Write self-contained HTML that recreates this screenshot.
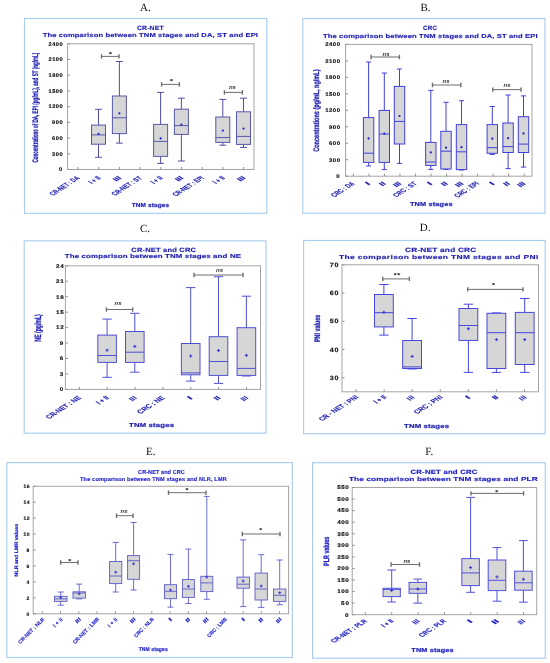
<!DOCTYPE html><html><head><meta charset="utf-8"><style>html,body{margin:0;padding:0;background:#fff;width:550px;height:663px;overflow:hidden}svg{display:block}</style></head><body>
<svg width="550" height="663" viewBox="0 0 550 663" text-rendering="geometricPrecision" font-family='"Liberation Sans", sans-serif'>
<defs><filter id="bl" x="0" y="0" width="550" height="663" filterUnits="userSpaceOnUse"><feGaussianBlur stdDeviation="0.3"/></filter></defs>
<rect width="550" height="663" fill="#fff"/>
<g filter="url(#bl)">
<rect x="24.50" y="18.50" width="242.30" height="194.80" fill="none" stroke="#a9cdef" stroke-width="1.15"/>
<text x="140" y="10.80" font-family='"Liberation Serif", serif' font-size="11" fill="#111">A.</text>
<text transform="translate(137.00,29.73) scale(1.101729992994629,1)" x="0" y="0" font-size="6.2" font-weight="bold" fill="#1e1eb0" textLength="24.14" lengthAdjust="spacing" stroke="#1e1eb0" stroke-width="0.15">CR-NET</text>
<text transform="translate(42.70,36.99) scale(1.311852407888414,1)" x="0" y="0" font-size="5.8" font-weight="bold" fill="#1e1eb0" textLength="164.12" lengthAdjust="spacing" stroke="#1e1eb0" stroke-width="0.15">The comparison between TNM stages and DA, ST and EPI</text>
<rect x="67.60" y="43.80" width="186.40" height="125.70" fill="none" stroke="#a4a4a4" stroke-width="1.0"/>
<line x1="67.60" y1="169.50" x2="70.10" y2="169.50" stroke="#909090" stroke-width="1"/>
<text transform="translate(59.10,171.31) scale(1.0689561558300529,1)" x="0" y="0" font-size="5.3" font-weight="bold" fill="#111" textLength="3.27" lengthAdjust="spacing" stroke="#111" stroke-width="0.15">0</text>
<line x1="67.60" y1="153.79" x2="70.10" y2="153.79" stroke="#909090" stroke-width="1"/>
<text transform="translate(52.10,155.60) scale(1.0689561558300529,1)" x="0" y="0" font-size="5.3" font-weight="bold" fill="#111" textLength="9.82" lengthAdjust="spacing" stroke="#111" stroke-width="0.15">300</text>
<line x1="67.60" y1="138.07" x2="70.10" y2="138.07" stroke="#909090" stroke-width="1"/>
<text transform="translate(52.10,139.88) scale(1.0689561558300529,1)" x="0" y="0" font-size="5.3" font-weight="bold" fill="#111" textLength="9.82" lengthAdjust="spacing" stroke="#111" stroke-width="0.15">600</text>
<line x1="67.60" y1="122.36" x2="70.10" y2="122.36" stroke="#909090" stroke-width="1"/>
<text transform="translate(52.10,124.17) scale(1.0689561558300529,1)" x="0" y="0" font-size="5.3" font-weight="bold" fill="#111" textLength="9.82" lengthAdjust="spacing" stroke="#111" stroke-width="0.15">900</text>
<line x1="67.60" y1="106.65" x2="70.10" y2="106.65" stroke="#909090" stroke-width="1"/>
<text transform="translate(48.60,108.46) scale(1.0689561558300529,1)" x="0" y="0" font-size="5.3" font-weight="bold" fill="#111" textLength="13.10" lengthAdjust="spacing" stroke="#111" stroke-width="0.15">1200</text>
<line x1="67.60" y1="90.94" x2="70.10" y2="90.94" stroke="#909090" stroke-width="1"/>
<text transform="translate(48.60,92.75) scale(1.0689561558300529,1)" x="0" y="0" font-size="5.3" font-weight="bold" fill="#111" textLength="13.10" lengthAdjust="spacing" stroke="#111" stroke-width="0.15">1500</text>
<line x1="67.60" y1="75.22" x2="70.10" y2="75.22" stroke="#909090" stroke-width="1"/>
<text transform="translate(48.60,77.03) scale(1.0689561558300529,1)" x="0" y="0" font-size="5.3" font-weight="bold" fill="#111" textLength="13.10" lengthAdjust="spacing" stroke="#111" stroke-width="0.15">1800</text>
<line x1="67.60" y1="59.51" x2="70.10" y2="59.51" stroke="#909090" stroke-width="1"/>
<text transform="translate(48.60,61.32) scale(1.0689561558300529,1)" x="0" y="0" font-size="5.3" font-weight="bold" fill="#111" textLength="13.10" lengthAdjust="spacing" stroke="#111" stroke-width="0.15">2100</text>
<line x1="67.60" y1="43.80" x2="70.10" y2="43.80" stroke="#909090" stroke-width="1"/>
<text transform="translate(48.60,45.61) scale(1.0689561558300529,1)" x="0" y="0" font-size="5.3" font-weight="bold" fill="#111" textLength="13.10" lengthAdjust="spacing" stroke="#111" stroke-width="0.15">2400</text>
<line x1="77.95" y1="169.50" x2="77.95" y2="167.00" stroke="#909090" stroke-width="1"/>
<text transform="matrix(1.0960,-0.7071,1.0960,0.7071,75.95,175.50)" x="0" y="4.03" text-anchor="end" font-size="5.6" font-weight="bold" fill="#1e1eb0" stroke="#1e1eb0" stroke-width="0.12" textLength="25.04" lengthAdjust="spacingAndGlyphs">CR-NET : DA</text>
<line x1="98.66" y1="169.50" x2="98.66" y2="167.00" stroke="#909090" stroke-width="1"/>
<text transform="matrix(1.0960,-0.7071,1.0960,0.7071,96.66,175.50)" x="0" y="4.03" text-anchor="end" font-size="5.6" font-weight="bold" fill="#1e1eb0" stroke="#1e1eb0" stroke-width="0.12" textLength="8.46" lengthAdjust="spacingAndGlyphs">I + II</text>
<line x1="119.38" y1="169.50" x2="119.38" y2="167.00" stroke="#909090" stroke-width="1"/>
<text transform="matrix(1.0960,-0.7071,1.0960,0.7071,117.38,175.50)" x="0" y="4.03" text-anchor="end" font-size="5.6" font-weight="bold" fill="#1e1eb0" stroke="#1e1eb0" stroke-width="0.12" textLength="4.94" lengthAdjust="spacingAndGlyphs">III</text>
<line x1="140.08" y1="169.50" x2="140.08" y2="167.00" stroke="#909090" stroke-width="1"/>
<text transform="matrix(1.0960,-0.7071,1.0960,0.7071,138.08,175.50)" x="0" y="4.03" text-anchor="end" font-size="5.6" font-weight="bold" fill="#1e1eb0" stroke="#1e1eb0" stroke-width="0.12" textLength="25.04" lengthAdjust="spacingAndGlyphs">CR-NET : ST</text>
<line x1="160.80" y1="169.50" x2="160.80" y2="167.00" stroke="#909090" stroke-width="1"/>
<text transform="matrix(1.0960,-0.7071,1.0960,0.7071,158.80,175.50)" x="0" y="4.03" text-anchor="end" font-size="5.6" font-weight="bold" fill="#1e1eb0" stroke="#1e1eb0" stroke-width="0.12" textLength="8.46" lengthAdjust="spacingAndGlyphs">I + II</text>
<line x1="181.50" y1="169.50" x2="181.50" y2="167.00" stroke="#909090" stroke-width="1"/>
<text transform="matrix(1.0960,-0.7071,1.0960,0.7071,179.50,175.50)" x="0" y="4.03" text-anchor="end" font-size="5.6" font-weight="bold" fill="#1e1eb0" stroke="#1e1eb0" stroke-width="0.12" textLength="4.94" lengthAdjust="spacingAndGlyphs">III</text>
<line x1="202.22" y1="169.50" x2="202.22" y2="167.00" stroke="#909090" stroke-width="1"/>
<text transform="matrix(1.0960,-0.7071,1.0960,0.7071,200.22,175.50)" x="0" y="4.03" text-anchor="end" font-size="5.6" font-weight="bold" fill="#1e1eb0" stroke="#1e1eb0" stroke-width="0.12" textLength="26.10" lengthAdjust="spacingAndGlyphs">CR-NET : EPI</text>
<line x1="222.93" y1="169.50" x2="222.93" y2="167.00" stroke="#909090" stroke-width="1"/>
<text transform="matrix(1.0960,-0.7071,1.0960,0.7071,220.93,175.50)" x="0" y="4.03" text-anchor="end" font-size="5.6" font-weight="bold" fill="#1e1eb0" stroke="#1e1eb0" stroke-width="0.12" textLength="8.46" lengthAdjust="spacingAndGlyphs">I + II</text>
<line x1="243.63" y1="169.50" x2="243.63" y2="167.00" stroke="#909090" stroke-width="1"/>
<text transform="matrix(1.0960,-0.7071,1.0960,0.7071,241.63,175.50)" x="0" y="4.03" text-anchor="end" font-size="5.6" font-weight="bold" fill="#1e1eb0" stroke="#1e1eb0" stroke-width="0.12" textLength="4.94" lengthAdjust="spacingAndGlyphs">III</text>
<text transform="translate(35.00,162.50) scale(1.3,1) rotate(-90)" x="0" y="2.23" font-size="6.2" font-weight="bold" fill="#1e1eb0" stroke="#1e1eb0" stroke-width="0.22" textLength="109.80" lengthAdjust="spacingAndGlyphs">Concentrations of DA, EPI (pg/mL), and ST (ng/mL)</text>
<text transform="translate(131.80,206.99) scale(1.1115898782984044,1)" x="0" y="0" font-size="5.8" font-weight="bold" fill="#1e1eb0" textLength="33.56" lengthAdjust="spacing" stroke="#1e1eb0" stroke-width="0.2">TNM stages</text>
<line x1="98.50" y1="109.30" x2="98.50" y2="125.10" stroke="#50509e" stroke-width="1.0"/>
<line x1="95.00" y1="109.30" x2="102.00" y2="109.30" stroke="#50509e" stroke-width="1.0"/>
<line x1="98.50" y1="144.20" x2="98.50" y2="157.30" stroke="#50509e" stroke-width="1.0"/>
<line x1="95.00" y1="157.30" x2="102.00" y2="157.30" stroke="#50509e" stroke-width="1.0"/>
<rect x="91.50" y="125.10" width="14.00" height="19.10" fill="#d6d6d6" stroke="#5858a8" stroke-width="1.0"/>
<line x1="91.50" y1="134.90" x2="105.50" y2="134.90" stroke="#5858a8" stroke-width="1.0"/>
<circle cx="98.50" cy="133.80" r="1.12" fill="#2020c8"/>
<line x1="119.40" y1="61.50" x2="119.40" y2="96.00" stroke="#50509e" stroke-width="1.0"/>
<line x1="115.90" y1="61.50" x2="122.90" y2="61.50" stroke="#50509e" stroke-width="1.0"/>
<line x1="119.40" y1="133.60" x2="119.40" y2="143.10" stroke="#50509e" stroke-width="1.0"/>
<line x1="115.90" y1="143.10" x2="122.90" y2="143.10" stroke="#50509e" stroke-width="1.0"/>
<rect x="112.40" y="96.00" width="14.00" height="37.60" fill="#d6d6d6" stroke="#5858a8" stroke-width="1.0"/>
<line x1="112.40" y1="117.80" x2="126.40" y2="117.80" stroke="#5858a8" stroke-width="1.0"/>
<circle cx="119.40" cy="113.30" r="1.12" fill="#2020c8"/>
<line x1="160.60" y1="92.40" x2="160.60" y2="124.40" stroke="#50509e" stroke-width="1.0"/>
<line x1="157.10" y1="92.40" x2="164.10" y2="92.40" stroke="#50509e" stroke-width="1.0"/>
<line x1="160.60" y1="156.40" x2="160.60" y2="163.40" stroke="#50509e" stroke-width="1.0"/>
<line x1="157.10" y1="163.40" x2="164.10" y2="163.40" stroke="#50509e" stroke-width="1.0"/>
<rect x="153.60" y="124.40" width="14.00" height="32.00" fill="#d6d6d6" stroke="#5858a8" stroke-width="1.0"/>
<line x1="153.60" y1="141.40" x2="167.60" y2="141.40" stroke="#5858a8" stroke-width="1.0"/>
<circle cx="160.60" cy="138.40" r="1.12" fill="#2020c8"/>
<line x1="181.40" y1="98.20" x2="181.40" y2="109.20" stroke="#50509e" stroke-width="1.0"/>
<line x1="177.90" y1="98.20" x2="184.90" y2="98.20" stroke="#50509e" stroke-width="1.0"/>
<line x1="181.40" y1="134.40" x2="181.40" y2="161.00" stroke="#50509e" stroke-width="1.0"/>
<line x1="177.90" y1="161.00" x2="184.90" y2="161.00" stroke="#50509e" stroke-width="1.0"/>
<rect x="174.40" y="109.20" width="14.00" height="25.20" fill="#d6d6d6" stroke="#5858a8" stroke-width="1.0"/>
<line x1="174.40" y1="125.60" x2="188.40" y2="125.60" stroke="#5858a8" stroke-width="1.0"/>
<circle cx="181.40" cy="124.60" r="1.12" fill="#2020c8"/>
<line x1="222.80" y1="99.40" x2="222.80" y2="117.00" stroke="#50509e" stroke-width="1.0"/>
<line x1="219.30" y1="99.40" x2="226.30" y2="99.40" stroke="#50509e" stroke-width="1.0"/>
<line x1="222.80" y1="142.40" x2="222.80" y2="145.20" stroke="#50509e" stroke-width="1.0"/>
<line x1="219.30" y1="145.20" x2="226.30" y2="145.20" stroke="#50509e" stroke-width="1.0"/>
<rect x="215.80" y="117.00" width="14.00" height="25.40" fill="#d6d6d6" stroke="#5858a8" stroke-width="1.0"/>
<line x1="215.80" y1="137.60" x2="229.80" y2="137.60" stroke="#5858a8" stroke-width="1.0"/>
<circle cx="222.80" cy="130.60" r="1.12" fill="#2020c8"/>
<line x1="243.50" y1="98.20" x2="243.50" y2="111.80" stroke="#50509e" stroke-width="1.0"/>
<line x1="240.00" y1="98.20" x2="247.00" y2="98.20" stroke="#50509e" stroke-width="1.0"/>
<line x1="243.50" y1="144.40" x2="243.50" y2="147.40" stroke="#50509e" stroke-width="1.0"/>
<line x1="240.00" y1="147.40" x2="247.00" y2="147.40" stroke="#50509e" stroke-width="1.0"/>
<rect x="236.50" y="111.80" width="14.00" height="32.60" fill="#d6d6d6" stroke="#5858a8" stroke-width="1.0"/>
<line x1="236.50" y1="136.40" x2="250.50" y2="136.40" stroke="#5858a8" stroke-width="1.0"/>
<circle cx="243.50" cy="128.60" r="1.12" fill="#2020c8"/>
<line x1="101.50" y1="56.40" x2="119.00" y2="56.40" stroke="#6e6e6e" stroke-width="1.0"/>
<line x1="101.50" y1="54.20" x2="101.50" y2="58.60" stroke="#6e6e6e" stroke-width="1.4"/>
<line x1="119.00" y1="54.20" x2="119.00" y2="58.60" stroke="#6e6e6e" stroke-width="1.4"/>
<text transform="translate(110.40,55.90) scale(1.5,1)" text-anchor="middle" font-size="5.8" font-weight="bold" fill="#222">*</text>
<line x1="161.60" y1="84.40" x2="179.40" y2="84.40" stroke="#6e6e6e" stroke-width="1.0"/>
<line x1="161.60" y1="82.20" x2="161.60" y2="86.60" stroke="#6e6e6e" stroke-width="1.4"/>
<line x1="179.40" y1="82.20" x2="179.40" y2="86.60" stroke="#6e6e6e" stroke-width="1.4"/>
<text transform="translate(171.40,82.60) scale(1.5,1)" text-anchor="middle" font-size="5.8" font-weight="bold" fill="#222">*</text>
<line x1="224.40" y1="92.40" x2="242.40" y2="92.40" stroke="#6e6e6e" stroke-width="1.0"/>
<line x1="224.40" y1="90.20" x2="224.40" y2="94.60" stroke="#6e6e6e" stroke-width="1.4"/>
<line x1="242.40" y1="90.20" x2="242.40" y2="94.60" stroke="#6e6e6e" stroke-width="1.4"/>
<text x="232.40" y="88.60" text-anchor="middle" font-size="5.5" font-style="italic" font-weight="bold" fill="#333" textLength="7" lengthAdjust="spacingAndGlyphs">ns</text>
<rect x="302.80" y="18.60" width="242.20" height="194.60" fill="none" stroke="#a9cdef" stroke-width="1.15"/>
<text x="420.4" y="10.80" font-family='"Liberation Serif", serif' font-size="11" fill="#111">B.</text>
<text transform="translate(423.00,30.33) scale(1.0109667183130702,1)" x="0" y="0" font-size="6.2" font-weight="bold" fill="#1e1eb0" textLength="13.85" lengthAdjust="spacing" stroke="#1e1eb0" stroke-width="0.15">CRC</text>
<text transform="translate(323.00,37.59) scale(1.3075872119500864,1)" x="0" y="0" font-size="5.8" font-weight="bold" fill="#1e1eb0" textLength="164.12" lengthAdjust="spacing" stroke="#1e1eb0" stroke-width="0.15">The comparison between TNM stages and DA, ST and EPI</text>
<rect x="345.60" y="44.40" width="186.40" height="131.80" fill="none" stroke="#a4a4a4" stroke-width="1.0"/>
<line x1="345.60" y1="176.20" x2="348.10" y2="176.20" stroke="#909090" stroke-width="1"/>
<text transform="translate(336.30,178.01) scale(1.1300393647346274,1)" x="0" y="0" font-size="5.3" font-weight="bold" fill="#111" textLength="3.27" lengthAdjust="spacing" stroke="#111" stroke-width="0.15">0</text>
<line x1="345.60" y1="159.72" x2="348.10" y2="159.72" stroke="#909090" stroke-width="1"/>
<text transform="translate(328.90,161.53) scale(1.1300393647346274,1)" x="0" y="0" font-size="5.3" font-weight="bold" fill="#111" textLength="9.82" lengthAdjust="spacing" stroke="#111" stroke-width="0.15">300</text>
<line x1="345.60" y1="143.25" x2="348.10" y2="143.25" stroke="#909090" stroke-width="1"/>
<text transform="translate(328.90,145.06) scale(1.1300393647346274,1)" x="0" y="0" font-size="5.3" font-weight="bold" fill="#111" textLength="9.82" lengthAdjust="spacing" stroke="#111" stroke-width="0.15">600</text>
<line x1="345.60" y1="126.77" x2="348.10" y2="126.77" stroke="#909090" stroke-width="1"/>
<text transform="translate(328.90,128.58) scale(1.1300393647346274,1)" x="0" y="0" font-size="5.3" font-weight="bold" fill="#111" textLength="9.82" lengthAdjust="spacing" stroke="#111" stroke-width="0.15">900</text>
<line x1="345.60" y1="110.30" x2="348.10" y2="110.30" stroke="#909090" stroke-width="1"/>
<text transform="translate(325.20,112.11) scale(1.1300393647346274,1)" x="0" y="0" font-size="5.3" font-weight="bold" fill="#111" textLength="13.10" lengthAdjust="spacing" stroke="#111" stroke-width="0.15">1200</text>
<line x1="345.60" y1="93.83" x2="348.10" y2="93.83" stroke="#909090" stroke-width="1"/>
<text transform="translate(325.20,95.63) scale(1.1300393647346274,1)" x="0" y="0" font-size="5.3" font-weight="bold" fill="#111" textLength="13.10" lengthAdjust="spacing" stroke="#111" stroke-width="0.15">1500</text>
<line x1="345.60" y1="77.35" x2="348.10" y2="77.35" stroke="#909090" stroke-width="1"/>
<text transform="translate(325.20,79.16) scale(1.1300393647346274,1)" x="0" y="0" font-size="5.3" font-weight="bold" fill="#111" textLength="13.10" lengthAdjust="spacing" stroke="#111" stroke-width="0.15">1800</text>
<line x1="345.60" y1="60.88" x2="348.10" y2="60.88" stroke="#909090" stroke-width="1"/>
<text transform="translate(325.20,62.68) scale(1.1300393647346274,1)" x="0" y="0" font-size="5.3" font-weight="bold" fill="#111" textLength="13.10" lengthAdjust="spacing" stroke="#111" stroke-width="0.15">2100</text>
<line x1="345.60" y1="44.40" x2="348.10" y2="44.40" stroke="#909090" stroke-width="1"/>
<text transform="translate(325.20,46.21) scale(1.1300393647346274,1)" x="0" y="0" font-size="5.3" font-weight="bold" fill="#111" textLength="13.10" lengthAdjust="spacing" stroke="#111" stroke-width="0.15">2400</text>
<line x1="353.37" y1="176.20" x2="353.37" y2="173.70" stroke="#909090" stroke-width="1"/>
<text transform="matrix(1.0960,-0.7071,1.0960,0.7071,350.87,181.20)" x="0" y="4.03" text-anchor="end" font-size="5.6" font-weight="bold" fill="#1e1eb0" stroke="#1e1eb0" stroke-width="0.12" textLength="19.04" lengthAdjust="spacingAndGlyphs">CRC : DA</text>
<line x1="368.90" y1="176.20" x2="368.90" y2="173.70" stroke="#909090" stroke-width="1"/>
<text transform="matrix(1.0960,-0.7071,1.0960,0.7071,366.40,181.20)" x="0" y="4.03" text-anchor="end" font-size="5.6" font-weight="bold" fill="#1e1eb0" stroke="#1e1eb0" stroke-width="0.12" textLength="2.12" lengthAdjust="spacingAndGlyphs">I</text>
<line x1="384.43" y1="176.20" x2="384.43" y2="173.70" stroke="#909090" stroke-width="1"/>
<text transform="matrix(1.0960,-0.7071,1.0960,0.7071,381.93,181.20)" x="0" y="4.03" text-anchor="end" font-size="5.6" font-weight="bold" fill="#1e1eb0" stroke="#1e1eb0" stroke-width="0.12" textLength="3.53" lengthAdjust="spacingAndGlyphs">II</text>
<line x1="399.96" y1="176.20" x2="399.96" y2="173.70" stroke="#909090" stroke-width="1"/>
<text transform="matrix(1.0960,-0.7071,1.0960,0.7071,397.46,181.20)" x="0" y="4.03" text-anchor="end" font-size="5.6" font-weight="bold" fill="#1e1eb0" stroke="#1e1eb0" stroke-width="0.12" textLength="4.94" lengthAdjust="spacingAndGlyphs">III</text>
<line x1="415.49" y1="176.20" x2="415.49" y2="173.70" stroke="#909090" stroke-width="1"/>
<text transform="matrix(1.0960,-0.7071,1.0960,0.7071,412.99,181.20)" x="0" y="4.03" text-anchor="end" font-size="5.6" font-weight="bold" fill="#1e1eb0" stroke="#1e1eb0" stroke-width="0.12" textLength="19.04" lengthAdjust="spacingAndGlyphs">CRC : ST</text>
<line x1="431.01" y1="176.20" x2="431.01" y2="173.70" stroke="#909090" stroke-width="1"/>
<text transform="matrix(1.0960,-0.7071,1.0960,0.7071,428.51,181.20)" x="0" y="4.03" text-anchor="end" font-size="5.6" font-weight="bold" fill="#1e1eb0" stroke="#1e1eb0" stroke-width="0.12" textLength="2.12" lengthAdjust="spacingAndGlyphs">I</text>
<line x1="446.55" y1="176.20" x2="446.55" y2="173.70" stroke="#909090" stroke-width="1"/>
<text transform="matrix(1.0960,-0.7071,1.0960,0.7071,444.05,181.20)" x="0" y="4.03" text-anchor="end" font-size="5.6" font-weight="bold" fill="#1e1eb0" stroke="#1e1eb0" stroke-width="0.12" textLength="3.53" lengthAdjust="spacingAndGlyphs">II</text>
<line x1="462.08" y1="176.20" x2="462.08" y2="173.70" stroke="#909090" stroke-width="1"/>
<text transform="matrix(1.0960,-0.7071,1.0960,0.7071,459.58,181.20)" x="0" y="4.03" text-anchor="end" font-size="5.6" font-weight="bold" fill="#1e1eb0" stroke="#1e1eb0" stroke-width="0.12" textLength="4.94" lengthAdjust="spacingAndGlyphs">III</text>
<line x1="477.61" y1="176.20" x2="477.61" y2="173.70" stroke="#909090" stroke-width="1"/>
<text transform="matrix(1.0960,-0.7071,1.0960,0.7071,475.11,181.20)" x="0" y="4.03" text-anchor="end" font-size="5.6" font-weight="bold" fill="#1e1eb0" stroke="#1e1eb0" stroke-width="0.12" textLength="19.75" lengthAdjust="spacingAndGlyphs">CRC : EPI</text>
<line x1="493.13" y1="176.20" x2="493.13" y2="173.70" stroke="#909090" stroke-width="1"/>
<text transform="matrix(1.0960,-0.7071,1.0960,0.7071,490.63,181.20)" x="0" y="4.03" text-anchor="end" font-size="5.6" font-weight="bold" fill="#1e1eb0" stroke="#1e1eb0" stroke-width="0.12" textLength="2.12" lengthAdjust="spacingAndGlyphs">I</text>
<line x1="508.67" y1="176.20" x2="508.67" y2="173.70" stroke="#909090" stroke-width="1"/>
<text transform="matrix(1.0960,-0.7071,1.0960,0.7071,506.17,181.20)" x="0" y="4.03" text-anchor="end" font-size="5.6" font-weight="bold" fill="#1e1eb0" stroke="#1e1eb0" stroke-width="0.12" textLength="3.53" lengthAdjust="spacingAndGlyphs">II</text>
<line x1="524.20" y1="176.20" x2="524.20" y2="173.70" stroke="#909090" stroke-width="1"/>
<text transform="matrix(1.0960,-0.7071,1.0960,0.7071,521.70,181.20)" x="0" y="4.03" text-anchor="end" font-size="5.6" font-weight="bold" fill="#1e1eb0" stroke="#1e1eb0" stroke-width="0.12" textLength="4.94" lengthAdjust="spacingAndGlyphs">III</text>
<text transform="translate(316.20,151.80) scale(1.3,1) rotate(-90)" x="0" y="2.23" font-size="6.2" font-weight="bold" fill="#1e1eb0" stroke="#1e1eb0" stroke-width="0.22" textLength="82.30" lengthAdjust="spacingAndGlyphs">Concentrations (pg/mL, ng/mL)</text>
<text transform="translate(410.00,206.39) scale(1.2665568318413463,1)" x="0" y="0" font-size="5.8" font-weight="bold" fill="#1e1eb0" textLength="33.56" lengthAdjust="spacing" stroke="#1e1eb0" stroke-width="0.2">TNM stages</text>
<line x1="368.60" y1="62.00" x2="368.60" y2="117.60" stroke="#4040dc" stroke-width="1.0"/>
<line x1="366.00" y1="62.00" x2="371.20" y2="62.00" stroke="#4040dc" stroke-width="1.0"/>
<line x1="368.60" y1="162.40" x2="368.60" y2="166.00" stroke="#4040dc" stroke-width="1.0"/>
<line x1="366.00" y1="166.00" x2="371.20" y2="166.00" stroke="#4040dc" stroke-width="1.0"/>
<rect x="363.40" y="117.60" width="10.40" height="44.80" fill="#d6d6d6" stroke="#4040dc" stroke-width="1.0"/>
<line x1="363.40" y1="153.20" x2="373.80" y2="153.20" stroke="#4040dc" stroke-width="1.0"/>
<circle cx="368.60" cy="138.40" r="1.12" fill="#2020c8"/>
<line x1="384.30" y1="73.00" x2="384.30" y2="110.40" stroke="#4040dc" stroke-width="1.0"/>
<line x1="381.70" y1="73.00" x2="386.90" y2="73.00" stroke="#4040dc" stroke-width="1.0"/>
<line x1="384.30" y1="162.40" x2="384.30" y2="169.60" stroke="#4040dc" stroke-width="1.0"/>
<line x1="381.70" y1="169.60" x2="386.90" y2="169.60" stroke="#4040dc" stroke-width="1.0"/>
<rect x="379.10" y="110.40" width="10.40" height="52.00" fill="#d6d6d6" stroke="#4040dc" stroke-width="1.0"/>
<line x1="379.10" y1="134.00" x2="389.50" y2="134.00" stroke="#4040dc" stroke-width="1.0"/>
<circle cx="384.30" cy="133.60" r="1.12" fill="#2020c8"/>
<line x1="399.50" y1="69.00" x2="399.50" y2="86.40" stroke="#4040dc" stroke-width="1.0"/>
<line x1="396.90" y1="69.00" x2="402.10" y2="69.00" stroke="#4040dc" stroke-width="1.0"/>
<line x1="399.50" y1="144.00" x2="399.50" y2="163.40" stroke="#4040dc" stroke-width="1.0"/>
<line x1="396.90" y1="163.40" x2="402.10" y2="163.40" stroke="#4040dc" stroke-width="1.0"/>
<rect x="394.30" y="86.40" width="10.40" height="57.60" fill="#d6d6d6" stroke="#4040dc" stroke-width="1.0"/>
<line x1="394.30" y1="121.40" x2="404.70" y2="121.40" stroke="#4040dc" stroke-width="1.0"/>
<circle cx="399.50" cy="116.00" r="1.12" fill="#2020c8"/>
<line x1="430.80" y1="90.40" x2="430.80" y2="142.40" stroke="#4040dc" stroke-width="1.0"/>
<line x1="428.20" y1="90.40" x2="433.40" y2="90.40" stroke="#4040dc" stroke-width="1.0"/>
<line x1="430.80" y1="165.40" x2="430.80" y2="169.40" stroke="#4040dc" stroke-width="1.0"/>
<line x1="428.20" y1="169.40" x2="433.40" y2="169.40" stroke="#4040dc" stroke-width="1.0"/>
<rect x="425.60" y="142.40" width="10.40" height="23.00" fill="#d6d6d6" stroke="#4040dc" stroke-width="1.0"/>
<line x1="425.60" y1="162.00" x2="436.00" y2="162.00" stroke="#4040dc" stroke-width="1.0"/>
<circle cx="430.80" cy="152.40" r="1.12" fill="#2020c8"/>
<line x1="446.00" y1="102.30" x2="446.00" y2="131.30" stroke="#4040dc" stroke-width="1.0"/>
<line x1="443.40" y1="102.30" x2="448.60" y2="102.30" stroke="#4040dc" stroke-width="1.0"/>
<line x1="446.00" y1="169.00" x2="446.00" y2="169.50" stroke="#4040dc" stroke-width="1.0"/>
<line x1="443.40" y1="169.50" x2="448.60" y2="169.50" stroke="#4040dc" stroke-width="1.0"/>
<rect x="440.80" y="131.30" width="10.40" height="37.70" fill="#d6d6d6" stroke="#4040dc" stroke-width="1.0"/>
<line x1="440.80" y1="151.20" x2="451.20" y2="151.20" stroke="#4040dc" stroke-width="1.0"/>
<circle cx="446.00" cy="147.70" r="1.12" fill="#2020c8"/>
<line x1="461.50" y1="100.70" x2="461.50" y2="124.60" stroke="#4040dc" stroke-width="1.0"/>
<line x1="458.90" y1="100.70" x2="464.10" y2="100.70" stroke="#4040dc" stroke-width="1.0"/>
<line x1="461.50" y1="169.60" x2="461.50" y2="170.00" stroke="#4040dc" stroke-width="1.0"/>
<line x1="458.90" y1="170.00" x2="464.10" y2="170.00" stroke="#4040dc" stroke-width="1.0"/>
<rect x="456.30" y="124.60" width="10.40" height="45.00" fill="#d6d6d6" stroke="#4040dc" stroke-width="1.0"/>
<line x1="456.30" y1="151.80" x2="466.70" y2="151.80" stroke="#4040dc" stroke-width="1.0"/>
<circle cx="461.50" cy="147.20" r="1.12" fill="#2020c8"/>
<line x1="492.30" y1="106.50" x2="492.30" y2="124.60" stroke="#4040dc" stroke-width="1.0"/>
<line x1="489.70" y1="106.50" x2="494.90" y2="106.50" stroke="#4040dc" stroke-width="1.0"/>
<line x1="492.30" y1="153.30" x2="492.30" y2="154.40" stroke="#4040dc" stroke-width="1.0"/>
<line x1="489.70" y1="154.40" x2="494.90" y2="154.40" stroke="#4040dc" stroke-width="1.0"/>
<rect x="487.10" y="124.60" width="10.40" height="28.70" fill="#d6d6d6" stroke="#4040dc" stroke-width="1.0"/>
<line x1="487.10" y1="147.70" x2="497.50" y2="147.70" stroke="#4040dc" stroke-width="1.0"/>
<circle cx="492.30" cy="138.70" r="1.12" fill="#2020c8"/>
<line x1="508.10" y1="95.00" x2="508.10" y2="123.00" stroke="#4040dc" stroke-width="1.0"/>
<line x1="505.50" y1="95.00" x2="510.70" y2="95.00" stroke="#4040dc" stroke-width="1.0"/>
<line x1="508.10" y1="152.50" x2="508.10" y2="168.60" stroke="#4040dc" stroke-width="1.0"/>
<line x1="505.50" y1="168.60" x2="510.70" y2="168.60" stroke="#4040dc" stroke-width="1.0"/>
<rect x="502.90" y="123.00" width="10.40" height="29.50" fill="#d6d6d6" stroke="#4040dc" stroke-width="1.0"/>
<line x1="502.90" y1="146.60" x2="513.30" y2="146.60" stroke="#4040dc" stroke-width="1.0"/>
<circle cx="508.10" cy="138.20" r="1.12" fill="#2020c8"/>
<line x1="523.50" y1="95.90" x2="523.50" y2="116.70" stroke="#4040dc" stroke-width="1.0"/>
<line x1="520.90" y1="95.90" x2="526.10" y2="95.90" stroke="#4040dc" stroke-width="1.0"/>
<line x1="523.50" y1="152.50" x2="523.50" y2="167.10" stroke="#4040dc" stroke-width="1.0"/>
<line x1="520.90" y1="167.10" x2="526.10" y2="167.10" stroke="#4040dc" stroke-width="1.0"/>
<rect x="518.30" y="116.70" width="10.40" height="35.80" fill="#d6d6d6" stroke="#4040dc" stroke-width="1.0"/>
<line x1="518.30" y1="144.10" x2="528.70" y2="144.10" stroke="#4040dc" stroke-width="1.0"/>
<circle cx="523.50" cy="133.40" r="1.12" fill="#2020c8"/>
<line x1="371.00" y1="57.00" x2="399.40" y2="57.00" stroke="#6e6e6e" stroke-width="1.0"/>
<line x1="371.00" y1="54.80" x2="371.00" y2="59.20" stroke="#6e6e6e" stroke-width="1.4"/>
<line x1="399.40" y1="54.80" x2="399.40" y2="59.20" stroke="#6e6e6e" stroke-width="1.4"/>
<text x="386.00" y="55.60" text-anchor="middle" font-size="5.5" font-style="italic" font-weight="bold" fill="#333" textLength="7" lengthAdjust="spacingAndGlyphs">ns</text>
<line x1="432.50" y1="85.00" x2="460.80" y2="85.00" stroke="#6e6e6e" stroke-width="1.0"/>
<line x1="432.50" y1="82.80" x2="432.50" y2="87.20" stroke="#6e6e6e" stroke-width="1.4"/>
<line x1="460.80" y1="82.80" x2="460.80" y2="87.20" stroke="#6e6e6e" stroke-width="1.4"/>
<text x="446.00" y="82.60" text-anchor="middle" font-size="5.5" font-style="italic" font-weight="bold" fill="#333" textLength="7" lengthAdjust="spacingAndGlyphs">ns</text>
<line x1="492.80" y1="89.60" x2="521.00" y2="89.60" stroke="#6e6e6e" stroke-width="1.0"/>
<line x1="492.80" y1="87.40" x2="492.80" y2="91.80" stroke="#6e6e6e" stroke-width="1.4"/>
<line x1="521.00" y1="87.40" x2="521.00" y2="91.80" stroke="#6e6e6e" stroke-width="1.4"/>
<text x="507.00" y="87.00" text-anchor="middle" font-size="5.5" font-style="italic" font-weight="bold" fill="#333" textLength="7" lengthAdjust="spacingAndGlyphs">ns</text>
<rect x="24.20" y="240.80" width="241.80" height="192.40" fill="none" stroke="#a9cdef" stroke-width="1.15"/>
<text x="140" y="232.40" font-family='"Liberation Serif", serif' font-size="11" fill="#111">C.</text>
<text transform="translate(131.30,251.83) scale(1.2229298121902767,1)" x="0" y="0" font-size="6.2" font-weight="bold" fill="#1e1eb0" textLength="52.91" lengthAdjust="spacing" stroke="#1e1eb0" stroke-width="0.15">CR-NET and CRC</text>
<text transform="translate(64.80,258.39) scale(1.3633881688500495,1)" x="0" y="0" font-size="5.8" font-weight="bold" fill="#1e1eb0" textLength="129.24" lengthAdjust="spacing" stroke="#1e1eb0" stroke-width="0.15">The comparison between TNM stages and NE</text>
<rect x="65.40" y="265.80" width="195.10" height="123.60" fill="none" stroke="#a4a4a4" stroke-width="1.0"/>
<line x1="65.40" y1="389.40" x2="67.90" y2="389.40" stroke="#909090" stroke-width="1"/>
<text transform="translate(59.85,391.21) scale(1.1758517714130583,1)" x="0" y="0" font-size="5.3" font-weight="bold" fill="#111" textLength="3.27" lengthAdjust="spacing" stroke="#111" stroke-width="0.15">0</text>
<line x1="65.40" y1="373.95" x2="67.90" y2="373.95" stroke="#909090" stroke-width="1"/>
<text transform="translate(59.85,375.76) scale(1.1758517714130583,1)" x="0" y="0" font-size="5.3" font-weight="bold" fill="#111" textLength="3.27" lengthAdjust="spacing" stroke="#111" stroke-width="0.15">3</text>
<line x1="65.40" y1="358.50" x2="67.90" y2="358.50" stroke="#909090" stroke-width="1"/>
<text transform="translate(59.85,360.31) scale(1.1758517714130583,1)" x="0" y="0" font-size="5.3" font-weight="bold" fill="#111" textLength="3.27" lengthAdjust="spacing" stroke="#111" stroke-width="0.15">6</text>
<line x1="65.40" y1="343.05" x2="67.90" y2="343.05" stroke="#909090" stroke-width="1"/>
<text transform="translate(59.85,344.86) scale(1.1758517714130583,1)" x="0" y="0" font-size="5.3" font-weight="bold" fill="#111" textLength="3.27" lengthAdjust="spacing" stroke="#111" stroke-width="0.15">9</text>
<line x1="65.40" y1="327.60" x2="67.90" y2="327.60" stroke="#909090" stroke-width="1"/>
<text transform="translate(56.00,329.41) scale(1.1758517714130583,1)" x="0" y="0" font-size="5.3" font-weight="bold" fill="#111" textLength="6.55" lengthAdjust="spacing" stroke="#111" stroke-width="0.15">12</text>
<line x1="65.40" y1="312.15" x2="67.90" y2="312.15" stroke="#909090" stroke-width="1"/>
<text transform="translate(56.00,313.96) scale(1.1758517714130583,1)" x="0" y="0" font-size="5.3" font-weight="bold" fill="#111" textLength="6.55" lengthAdjust="spacing" stroke="#111" stroke-width="0.15">15</text>
<line x1="65.40" y1="296.70" x2="67.90" y2="296.70" stroke="#909090" stroke-width="1"/>
<text transform="translate(56.00,298.51) scale(1.1758517714130583,1)" x="0" y="0" font-size="5.3" font-weight="bold" fill="#111" textLength="6.55" lengthAdjust="spacing" stroke="#111" stroke-width="0.15">18</text>
<line x1="65.40" y1="281.25" x2="67.90" y2="281.25" stroke="#909090" stroke-width="1"/>
<text transform="translate(56.00,283.06) scale(1.1758517714130583,1)" x="0" y="0" font-size="5.3" font-weight="bold" fill="#111" textLength="6.55" lengthAdjust="spacing" stroke="#111" stroke-width="0.15">21</text>
<line x1="65.40" y1="265.80" x2="67.90" y2="265.80" stroke="#909090" stroke-width="1"/>
<text transform="translate(56.00,267.61) scale(1.1758517714130583,1)" x="0" y="0" font-size="5.3" font-weight="bold" fill="#111" textLength="6.55" lengthAdjust="spacing" stroke="#111" stroke-width="0.15">24</text>
<line x1="79.34" y1="389.40" x2="79.34" y2="386.90" stroke="#909090" stroke-width="1"/>
<text transform="matrix(1.0960,-0.7071,1.0960,0.7071,77.34,395.40)" x="0" y="4.03" text-anchor="end" font-size="5.6" font-weight="bold" fill="#1e1eb0" stroke="#1e1eb0" stroke-width="0.12" textLength="29.62" lengthAdjust="spacingAndGlyphs">CR-NET : NE</text>
<line x1="107.21" y1="389.40" x2="107.21" y2="386.90" stroke="#909090" stroke-width="1"/>
<text transform="matrix(1.0960,-0.7071,1.0960,0.7071,105.21,395.40)" x="0" y="4.03" text-anchor="end" font-size="5.6" font-weight="bold" fill="#1e1eb0" stroke="#1e1eb0" stroke-width="0.12" textLength="9.17" lengthAdjust="spacingAndGlyphs">I + II</text>
<line x1="135.07" y1="389.40" x2="135.07" y2="386.90" stroke="#909090" stroke-width="1"/>
<text transform="matrix(1.0960,-0.7071,1.0960,0.7071,133.07,395.40)" x="0" y="4.03" text-anchor="end" font-size="5.6" font-weight="bold" fill="#1e1eb0" stroke="#1e1eb0" stroke-width="0.12" textLength="4.58" lengthAdjust="spacingAndGlyphs">III</text>
<line x1="162.94" y1="389.40" x2="162.94" y2="386.90" stroke="#909090" stroke-width="1"/>
<text transform="matrix(1.0960,-0.7071,1.0960,0.7071,160.94,395.40)" x="0" y="4.03" text-anchor="end" font-size="5.6" font-weight="bold" fill="#1e1eb0" stroke="#1e1eb0" stroke-width="0.12" textLength="22.57" lengthAdjust="spacingAndGlyphs">CRC : NE</text>
<line x1="190.81" y1="389.40" x2="190.81" y2="386.90" stroke="#909090" stroke-width="1"/>
<text transform="matrix(1.0960,-0.7071,1.0960,0.7071,188.81,395.40)" x="0" y="4.03" text-anchor="end" font-size="5.6" font-weight="bold" fill="#1e1eb0" stroke="#1e1eb0" stroke-width="0.12" textLength="2.47" lengthAdjust="spacingAndGlyphs">I</text>
<line x1="218.69" y1="389.40" x2="218.69" y2="386.90" stroke="#909090" stroke-width="1"/>
<text transform="matrix(1.0960,-0.7071,1.0960,0.7071,216.69,395.40)" x="0" y="4.03" text-anchor="end" font-size="5.6" font-weight="bold" fill="#1e1eb0" stroke="#1e1eb0" stroke-width="0.12" textLength="3.53" lengthAdjust="spacingAndGlyphs">II</text>
<line x1="246.56" y1="389.40" x2="246.56" y2="386.90" stroke="#909090" stroke-width="1"/>
<text transform="matrix(1.0960,-0.7071,1.0960,0.7071,244.56,395.40)" x="0" y="4.03" text-anchor="end" font-size="5.6" font-weight="bold" fill="#1e1eb0" stroke="#1e1eb0" stroke-width="0.12" textLength="4.58" lengthAdjust="spacingAndGlyphs">III</text>
<text transform="translate(37.80,341.50) scale(1.3,1) rotate(-90)" x="0" y="2.52" font-size="7" font-weight="bold" fill="#1e1eb0" stroke="#1e1eb0" stroke-width="0.22" textLength="27.30" lengthAdjust="spacingAndGlyphs">NE (pg/mL)</text>
<text transform="translate(129.00,427.09) scale(1.341060174890837,1)" x="0" y="0" font-size="5.8" font-weight="bold" fill="#1e1eb0" textLength="33.56" lengthAdjust="spacing" stroke="#1e1eb0" stroke-width="0.2">TNM stages</text>
<line x1="107.10" y1="319.10" x2="107.10" y2="335.10" stroke="#5050d4" stroke-width="1.0"/>
<line x1="102.45" y1="319.10" x2="111.75" y2="319.10" stroke="#5050d4" stroke-width="1.0"/>
<line x1="107.10" y1="362.40" x2="107.10" y2="377.30" stroke="#5050d4" stroke-width="1.0"/>
<line x1="102.45" y1="377.30" x2="111.75" y2="377.30" stroke="#5050d4" stroke-width="1.0"/>
<rect x="97.80" y="335.10" width="18.60" height="27.30" fill="#d6d6d6" stroke="#5050d4" stroke-width="1.0"/>
<line x1="97.80" y1="355.50" x2="116.40" y2="355.50" stroke="#5050d4" stroke-width="1.0"/>
<line x1="105.50" y1="350.20" x2="108.70" y2="350.20" stroke="#2a2ad0" stroke-width="0.9"/>
<line x1="107.10" y1="348.60" x2="107.10" y2="351.80" stroke="#2a2ad0" stroke-width="0.9"/>
<line x1="134.80" y1="313.30" x2="134.80" y2="331.50" stroke="#5050d4" stroke-width="1.0"/>
<line x1="130.15" y1="313.30" x2="139.45" y2="313.30" stroke="#5050d4" stroke-width="1.0"/>
<line x1="134.80" y1="362.40" x2="134.80" y2="372.20" stroke="#5050d4" stroke-width="1.0"/>
<line x1="130.15" y1="372.20" x2="139.45" y2="372.20" stroke="#5050d4" stroke-width="1.0"/>
<rect x="125.50" y="331.50" width="18.60" height="30.90" fill="#d6d6d6" stroke="#5050d4" stroke-width="1.0"/>
<line x1="125.50" y1="352.20" x2="144.10" y2="352.20" stroke="#5050d4" stroke-width="1.0"/>
<line x1="133.20" y1="346.40" x2="136.40" y2="346.40" stroke="#2a2ad0" stroke-width="0.9"/>
<line x1="134.80" y1="344.80" x2="134.80" y2="348.00" stroke="#2a2ad0" stroke-width="0.9"/>
<line x1="190.70" y1="287.60" x2="190.70" y2="343.50" stroke="#5050d4" stroke-width="1.0"/>
<line x1="186.05" y1="287.60" x2="195.35" y2="287.60" stroke="#5050d4" stroke-width="1.0"/>
<line x1="190.70" y1="374.80" x2="190.70" y2="381.10" stroke="#5050d4" stroke-width="1.0"/>
<line x1="186.05" y1="381.10" x2="195.35" y2="381.10" stroke="#5050d4" stroke-width="1.0"/>
<rect x="181.40" y="343.50" width="18.60" height="31.30" fill="#d6d6d6" stroke="#5050d4" stroke-width="1.0"/>
<line x1="181.40" y1="372.90" x2="200.00" y2="372.90" stroke="#5050d4" stroke-width="1.0"/>
<line x1="189.10" y1="356.00" x2="192.30" y2="356.00" stroke="#2a2ad0" stroke-width="0.9"/>
<line x1="190.70" y1="354.40" x2="190.70" y2="357.60" stroke="#2a2ad0" stroke-width="0.9"/>
<line x1="218.50" y1="276.70" x2="218.50" y2="336.70" stroke="#5050d4" stroke-width="1.0"/>
<line x1="213.85" y1="276.70" x2="223.15" y2="276.70" stroke="#5050d4" stroke-width="1.0"/>
<line x1="218.50" y1="375.40" x2="218.50" y2="383.40" stroke="#5050d4" stroke-width="1.0"/>
<line x1="213.85" y1="383.40" x2="223.15" y2="383.40" stroke="#5050d4" stroke-width="1.0"/>
<rect x="209.20" y="336.70" width="18.60" height="38.70" fill="#d6d6d6" stroke="#5050d4" stroke-width="1.0"/>
<line x1="209.20" y1="361.50" x2="227.80" y2="361.50" stroke="#5050d4" stroke-width="1.0"/>
<line x1="216.90" y1="350.60" x2="220.10" y2="350.60" stroke="#2a2ad0" stroke-width="0.9"/>
<line x1="218.50" y1="349.00" x2="218.50" y2="352.20" stroke="#2a2ad0" stroke-width="0.9"/>
<line x1="246.40" y1="296.20" x2="246.40" y2="327.70" stroke="#5050d4" stroke-width="1.0"/>
<line x1="241.75" y1="296.20" x2="251.05" y2="296.20" stroke="#5050d4" stroke-width="1.0"/>
<line x1="246.40" y1="375.40" x2="246.40" y2="376.00" stroke="#5050d4" stroke-width="1.0"/>
<line x1="241.75" y1="376.00" x2="251.05" y2="376.00" stroke="#5050d4" stroke-width="1.0"/>
<rect x="237.10" y="327.70" width="18.60" height="47.70" fill="#d6d6d6" stroke="#5050d4" stroke-width="1.0"/>
<line x1="237.10" y1="368.40" x2="255.70" y2="368.40" stroke="#5050d4" stroke-width="1.0"/>
<line x1="244.80" y1="355.40" x2="248.00" y2="355.40" stroke="#2a2ad0" stroke-width="0.9"/>
<line x1="246.40" y1="353.80" x2="246.40" y2="357.00" stroke="#2a2ad0" stroke-width="0.9"/>
<line x1="106.40" y1="309.50" x2="132.70" y2="309.50" stroke="#6e6e6e" stroke-width="1.0"/>
<line x1="106.40" y1="307.30" x2="106.40" y2="311.70" stroke="#6e6e6e" stroke-width="1.4"/>
<line x1="132.70" y1="307.30" x2="132.70" y2="311.70" stroke="#6e6e6e" stroke-width="1.4"/>
<text x="118.00" y="304.90" text-anchor="middle" font-size="5.5" font-style="italic" font-weight="bold" fill="#333" textLength="7" lengthAdjust="spacingAndGlyphs">ns</text>
<line x1="194.00" y1="275.00" x2="243.00" y2="275.00" stroke="#6e6e6e" stroke-width="1.0"/>
<line x1="194.00" y1="272.80" x2="194.00" y2="277.20" stroke="#6e6e6e" stroke-width="1.4"/>
<line x1="243.00" y1="272.80" x2="243.00" y2="277.20" stroke="#6e6e6e" stroke-width="1.4"/>
<text x="219.60" y="272.40" text-anchor="middle" font-size="5.5" font-style="italic" font-weight="bold" fill="#333" textLength="7" lengthAdjust="spacingAndGlyphs">ns</text>
<rect x="303.60" y="240.50" width="241.60" height="193.20" fill="none" stroke="#a9cdef" stroke-width="1.15"/>
<text x="419.8" y="231.40" font-family='"Liberation Serif", serif' font-size="11" fill="#111">D.</text>
<text transform="translate(405.00,252.43) scale(1.347679993959301,1)" x="0" y="0" font-size="6.2" font-weight="bold" fill="#1e1eb0" textLength="52.91" lengthAdjust="spacing" stroke="#1e1eb0" stroke-width="0.15">CR-NET and CRC</text>
<text transform="translate(339.00,259.09) scale(1.45,1)" x="0" y="0" font-size="5.8" font-weight="bold" fill="#1e1eb0" textLength="137.45" lengthAdjust="spacing" stroke="#1e1eb0" stroke-width="0.15">The comparison between TNM stages and PNI</text>
<rect x="342.00" y="264.80" width="196.50" height="127.00" fill="none" stroke="#a4a4a4" stroke-width="1.0"/>
<line x1="342.00" y1="377.69" x2="344.50" y2="377.69" stroke="#909090" stroke-width="1"/>
<text transform="translate(329.70,379.82) scale(1.1487584126247388,1)" x="0" y="0" font-size="6.2" font-weight="bold" fill="#111" textLength="7.66" lengthAdjust="spacing" stroke="#111" stroke-width="0.15">30</text>
<line x1="342.00" y1="349.47" x2="344.50" y2="349.47" stroke="#909090" stroke-width="1"/>
<text transform="translate(329.70,351.60) scale(1.1487584126247388,1)" x="0" y="0" font-size="6.2" font-weight="bold" fill="#111" textLength="7.66" lengthAdjust="spacing" stroke="#111" stroke-width="0.15">40</text>
<line x1="342.00" y1="321.24" x2="344.50" y2="321.24" stroke="#909090" stroke-width="1"/>
<text transform="translate(329.70,323.38) scale(1.1487584126247388,1)" x="0" y="0" font-size="6.2" font-weight="bold" fill="#111" textLength="7.66" lengthAdjust="spacing" stroke="#111" stroke-width="0.15">50</text>
<line x1="342.00" y1="293.02" x2="344.50" y2="293.02" stroke="#909090" stroke-width="1"/>
<text transform="translate(329.70,295.15) scale(1.1487584126247388,1)" x="0" y="0" font-size="6.2" font-weight="bold" fill="#111" textLength="7.66" lengthAdjust="spacing" stroke="#111" stroke-width="0.15">60</text>
<line x1="342.00" y1="264.80" x2="344.50" y2="264.80" stroke="#909090" stroke-width="1"/>
<text transform="translate(329.70,266.93) scale(1.1487584126247388,1)" x="0" y="0" font-size="6.2" font-weight="bold" fill="#111" textLength="7.66" lengthAdjust="spacing" stroke="#111" stroke-width="0.15">70</text>
<line x1="356.04" y1="391.80" x2="356.04" y2="389.30" stroke="#909090" stroke-width="1"/>
<text transform="matrix(1.0960,-0.7071,1.0960,0.7071,354.54,394.80)" x="0" y="4.03" text-anchor="end" font-size="5.6" font-weight="bold" fill="#1e1eb0" stroke="#1e1eb0" stroke-width="0.12" textLength="33.57" lengthAdjust="spacingAndGlyphs">CR - NET : PNI</text>
<line x1="384.11" y1="391.80" x2="384.11" y2="389.30" stroke="#909090" stroke-width="1"/>
<text transform="matrix(1.0960,-0.7071,1.0960,0.7071,382.61,394.80)" x="0" y="4.03" text-anchor="end" font-size="5.6" font-weight="bold" fill="#1e1eb0" stroke="#1e1eb0" stroke-width="0.12" textLength="9.17" lengthAdjust="spacingAndGlyphs">I + II</text>
<line x1="412.18" y1="391.80" x2="412.18" y2="389.30" stroke="#909090" stroke-width="1"/>
<text transform="matrix(1.0960,-0.7071,1.0960,0.7071,410.68,394.80)" x="0" y="4.03" text-anchor="end" font-size="5.6" font-weight="bold" fill="#1e1eb0" stroke="#1e1eb0" stroke-width="0.12" textLength="4.58" lengthAdjust="spacingAndGlyphs">III</text>
<line x1="440.25" y1="391.80" x2="440.25" y2="389.30" stroke="#909090" stroke-width="1"/>
<text transform="matrix(1.0960,-0.7071,1.0960,0.7071,438.75,394.80)" x="0" y="4.03" text-anchor="end" font-size="5.6" font-weight="bold" fill="#1e1eb0" stroke="#1e1eb0" stroke-width="0.12" textLength="23.63" lengthAdjust="spacingAndGlyphs">CRC : PNI</text>
<line x1="468.31" y1="391.80" x2="468.31" y2="389.30" stroke="#909090" stroke-width="1"/>
<text transform="matrix(1.0960,-0.7071,1.0960,0.7071,466.81,394.80)" x="0" y="4.03" text-anchor="end" font-size="5.6" font-weight="bold" fill="#1e1eb0" stroke="#1e1eb0" stroke-width="0.12" textLength="2.47" lengthAdjust="spacingAndGlyphs">I</text>
<line x1="496.38" y1="391.80" x2="496.38" y2="389.30" stroke="#909090" stroke-width="1"/>
<text transform="matrix(1.0960,-0.7071,1.0960,0.7071,494.88,394.80)" x="0" y="4.03" text-anchor="end" font-size="5.6" font-weight="bold" fill="#1e1eb0" stroke="#1e1eb0" stroke-width="0.12" textLength="3.53" lengthAdjust="spacingAndGlyphs">II</text>
<line x1="524.46" y1="391.80" x2="524.46" y2="389.30" stroke="#909090" stroke-width="1"/>
<text transform="matrix(1.0960,-0.7071,1.0960,0.7071,522.96,394.80)" x="0" y="4.03" text-anchor="end" font-size="5.6" font-weight="bold" fill="#1e1eb0" stroke="#1e1eb0" stroke-width="0.12" textLength="4.58" lengthAdjust="spacingAndGlyphs">III</text>
<text transform="translate(317.40,342.00) scale(1.3,1) rotate(-90)" x="0" y="2.23" font-size="6.2" font-weight="bold" fill="#1e1eb0" stroke="#1e1eb0" stroke-width="0.22" textLength="27.20" lengthAdjust="spacingAndGlyphs">PNI values</text>
<text transform="translate(404.00,428.39) scale(1.341060174890837,1)" x="0" y="0" font-size="5.8" font-weight="bold" fill="#1e1eb0" textLength="33.56" lengthAdjust="spacing" stroke="#1e1eb0" stroke-width="0.2">TNM stages</text>
<line x1="383.90" y1="284.50" x2="383.90" y2="294.50" stroke="#4646e0" stroke-width="1.0"/>
<line x1="379.20" y1="284.50" x2="388.60" y2="284.50" stroke="#4646e0" stroke-width="1.0"/>
<line x1="383.90" y1="326.90" x2="383.90" y2="335.10" stroke="#4646e0" stroke-width="1.0"/>
<line x1="379.20" y1="335.10" x2="388.60" y2="335.10" stroke="#4646e0" stroke-width="1.0"/>
<rect x="374.50" y="294.50" width="18.80" height="32.40" fill="#d6d6d6" stroke="#4646e0" stroke-width="1.0"/>
<line x1="374.50" y1="312.70" x2="393.30" y2="312.70" stroke="#4646e0" stroke-width="1.0"/>
<line x1="382.30" y1="312.20" x2="385.50" y2="312.20" stroke="#2a2ad0" stroke-width="0.9"/>
<line x1="383.90" y1="310.60" x2="383.90" y2="313.80" stroke="#2a2ad0" stroke-width="0.9"/>
<line x1="412.10" y1="318.50" x2="412.10" y2="340.50" stroke="#4646e0" stroke-width="1.0"/>
<line x1="407.40" y1="318.50" x2="416.80" y2="318.50" stroke="#4646e0" stroke-width="1.0"/>
<line x1="412.10" y1="368.50" x2="412.10" y2="369.00" stroke="#4646e0" stroke-width="1.0"/>
<line x1="407.40" y1="369.00" x2="416.80" y2="369.00" stroke="#4646e0" stroke-width="1.0"/>
<rect x="402.70" y="340.50" width="18.80" height="28.00" fill="#d6d6d6" stroke="#4646e0" stroke-width="1.0"/>
<line x1="402.70" y1="366.90" x2="421.50" y2="366.90" stroke="#4646e0" stroke-width="1.0"/>
<line x1="410.50" y1="356.40" x2="413.70" y2="356.40" stroke="#2a2ad0" stroke-width="0.9"/>
<line x1="412.10" y1="354.80" x2="412.10" y2="358.00" stroke="#2a2ad0" stroke-width="0.9"/>
<line x1="468.40" y1="304.20" x2="468.40" y2="308.50" stroke="#4646e0" stroke-width="1.0"/>
<line x1="463.70" y1="304.20" x2="473.10" y2="304.20" stroke="#4646e0" stroke-width="1.0"/>
<line x1="468.40" y1="340.40" x2="468.40" y2="372.40" stroke="#4646e0" stroke-width="1.0"/>
<line x1="463.70" y1="372.40" x2="473.10" y2="372.40" stroke="#4646e0" stroke-width="1.0"/>
<rect x="459.00" y="308.50" width="18.80" height="31.90" fill="#d6d6d6" stroke="#4646e0" stroke-width="1.0"/>
<line x1="459.00" y1="325.50" x2="477.80" y2="325.50" stroke="#4646e0" stroke-width="1.0"/>
<line x1="466.80" y1="328.70" x2="470.00" y2="328.70" stroke="#2a2ad0" stroke-width="0.9"/>
<line x1="468.40" y1="327.10" x2="468.40" y2="330.30" stroke="#2a2ad0" stroke-width="0.9"/>
<line x1="496.40" y1="312.90" x2="496.40" y2="313.30" stroke="#4646e0" stroke-width="1.0"/>
<line x1="491.70" y1="312.90" x2="501.10" y2="312.90" stroke="#4646e0" stroke-width="1.0"/>
<line x1="496.40" y1="368.50" x2="496.40" y2="372.40" stroke="#4646e0" stroke-width="1.0"/>
<line x1="491.70" y1="372.40" x2="501.10" y2="372.40" stroke="#4646e0" stroke-width="1.0"/>
<rect x="487.00" y="313.30" width="18.80" height="55.20" fill="#d6d6d6" stroke="#4646e0" stroke-width="1.0"/>
<line x1="487.00" y1="332.70" x2="505.80" y2="332.70" stroke="#4646e0" stroke-width="1.0"/>
<line x1="494.80" y1="339.60" x2="498.00" y2="339.60" stroke="#2a2ad0" stroke-width="0.9"/>
<line x1="496.40" y1="338.00" x2="496.40" y2="341.20" stroke="#2a2ad0" stroke-width="0.9"/>
<line x1="524.70" y1="298.50" x2="524.70" y2="312.40" stroke="#4646e0" stroke-width="1.0"/>
<line x1="520.00" y1="298.50" x2="529.40" y2="298.50" stroke="#4646e0" stroke-width="1.0"/>
<line x1="524.70" y1="364.50" x2="524.70" y2="372.40" stroke="#4646e0" stroke-width="1.0"/>
<line x1="520.00" y1="372.40" x2="529.40" y2="372.40" stroke="#4646e0" stroke-width="1.0"/>
<rect x="515.30" y="312.40" width="18.80" height="52.10" fill="#d6d6d6" stroke="#4646e0" stroke-width="1.0"/>
<line x1="515.30" y1="332.70" x2="534.10" y2="332.70" stroke="#4646e0" stroke-width="1.0"/>
<line x1="523.10" y1="339.60" x2="526.30" y2="339.60" stroke="#2a2ad0" stroke-width="0.9"/>
<line x1="524.70" y1="338.00" x2="524.70" y2="341.20" stroke="#2a2ad0" stroke-width="0.9"/>
<line x1="382.70" y1="278.90" x2="409.40" y2="278.90" stroke="#6e6e6e" stroke-width="1.0"/>
<line x1="382.70" y1="276.70" x2="382.70" y2="281.10" stroke="#6e6e6e" stroke-width="1.4"/>
<line x1="409.40" y1="276.70" x2="409.40" y2="281.10" stroke="#6e6e6e" stroke-width="1.4"/>
<text transform="translate(396.90,277.20) scale(1.5,1)" text-anchor="middle" font-size="5.8" font-weight="bold" fill="#222">**</text>
<line x1="467.70" y1="289.40" x2="523.00" y2="289.40" stroke="#6e6e6e" stroke-width="1.0"/>
<line x1="467.70" y1="287.20" x2="467.70" y2="291.60" stroke="#6e6e6e" stroke-width="1.4"/>
<line x1="523.00" y1="287.20" x2="523.00" y2="291.60" stroke="#6e6e6e" stroke-width="1.4"/>
<text transform="translate(493.50,286.60) scale(1.5,1)" text-anchor="middle" font-size="5.8" font-weight="bold" fill="#222">*</text>
<rect x="6.80" y="462.60" width="285.50" height="194.90" fill="none" stroke="#a9cdef" stroke-width="1.15"/>
<text x="146" y="454.60" font-family='"Liberation Serif", serif' font-size="11" fill="#111">E.</text>
<text transform="translate(138.10,474.19) scale(0.9415575370090467,1)" x="0" y="0" font-size="5.8" font-weight="bold" fill="#2626cc" textLength="49.49" lengthAdjust="spacing" stroke="#2626cc" stroke-width="0.15">CR-NET and CRC</text>
<text transform="translate(80.00,480.52) scale(1.0,1)" x="0" y="0" font-size="5.6" font-weight="bold" fill="#2626cc" textLength="146.80" lengthAdjust="spacing" stroke="#2626cc" stroke-width="0.15">The comparison between TNM stages and NLR, LMR</text>
<rect x="33.20" y="486.30" width="255.40" height="127.50" fill="none" stroke="#a4a4a4" stroke-width="1.0"/>
<line x1="33.20" y1="613.80" x2="35.70" y2="613.80" stroke="#909090" stroke-width="1"/>
<text transform="translate(26.50,615.50) scale(1.0,1)" x="0" y="0" font-size="5" font-weight="bold" fill="#111" textLength="3.00" lengthAdjust="spacing" stroke="#111" stroke-width="0.15">0</text>
<line x1="33.20" y1="597.86" x2="35.70" y2="597.86" stroke="#909090" stroke-width="1"/>
<text transform="translate(26.50,599.56) scale(1.0,1)" x="0" y="0" font-size="5" font-weight="bold" fill="#111" textLength="3.00" lengthAdjust="spacing" stroke="#111" stroke-width="0.15">2</text>
<line x1="33.20" y1="581.92" x2="35.70" y2="581.92" stroke="#909090" stroke-width="1"/>
<text transform="translate(26.50,583.62) scale(1.0,1)" x="0" y="0" font-size="5" font-weight="bold" fill="#111" textLength="3.00" lengthAdjust="spacing" stroke="#111" stroke-width="0.15">4</text>
<line x1="33.20" y1="565.99" x2="35.70" y2="565.99" stroke="#909090" stroke-width="1"/>
<text transform="translate(26.50,567.69) scale(1.0,1)" x="0" y="0" font-size="5" font-weight="bold" fill="#111" textLength="3.00" lengthAdjust="spacing" stroke="#111" stroke-width="0.15">6</text>
<line x1="33.20" y1="550.05" x2="35.70" y2="550.05" stroke="#909090" stroke-width="1"/>
<text transform="translate(26.50,551.75) scale(1.0,1)" x="0" y="0" font-size="5" font-weight="bold" fill="#111" textLength="3.00" lengthAdjust="spacing" stroke="#111" stroke-width="0.15">8</text>
<line x1="33.20" y1="534.11" x2="35.70" y2="534.11" stroke="#909090" stroke-width="1"/>
<text transform="translate(23.50,535.81) scale(1.0,1)" x="0" y="0" font-size="5" font-weight="bold" fill="#111" textLength="6.00" lengthAdjust="spacing" stroke="#111" stroke-width="0.15">10</text>
<line x1="33.20" y1="518.17" x2="35.70" y2="518.17" stroke="#909090" stroke-width="1"/>
<text transform="translate(23.50,519.87) scale(1.0,1)" x="0" y="0" font-size="5" font-weight="bold" fill="#111" textLength="6.00" lengthAdjust="spacing" stroke="#111" stroke-width="0.15">12</text>
<line x1="33.20" y1="502.24" x2="35.70" y2="502.24" stroke="#909090" stroke-width="1"/>
<text transform="translate(23.50,503.94) scale(1.0,1)" x="0" y="0" font-size="5" font-weight="bold" fill="#111" textLength="6.00" lengthAdjust="spacing" stroke="#111" stroke-width="0.15">14</text>
<line x1="33.20" y1="486.30" x2="35.70" y2="486.30" stroke="#909090" stroke-width="1"/>
<text transform="translate(23.50,488.00) scale(1.0,1)" x="0" y="0" font-size="5" font-weight="bold" fill="#111" textLength="6.00" lengthAdjust="spacing" stroke="#111" stroke-width="0.15">16</text>
<line x1="42.33" y1="613.80" x2="42.33" y2="611.30" stroke="#909090" stroke-width="1"/>
<text transform="matrix(0.7071,-0.7071,0.7071,0.7071,42.03,617.00)" x="0" y="3.89" text-anchor="end" font-size="5.4" font-weight="bold" fill="#2626cc" stroke="#2626cc" stroke-width="0.12" textLength="34.58" lengthAdjust="spacingAndGlyphs">CR-NET : NLR</text>
<line x1="60.58" y1="613.80" x2="60.58" y2="611.30" stroke="#909090" stroke-width="1"/>
<text transform="matrix(0.7071,-0.7071,0.7071,0.7071,60.28,617.00)" x="0" y="3.89" text-anchor="end" font-size="5.4" font-weight="bold" fill="#2626cc" stroke="#2626cc" stroke-width="0.12" textLength="11.40" lengthAdjust="spacingAndGlyphs">I + II</text>
<line x1="78.83" y1="613.80" x2="78.83" y2="611.30" stroke="#909090" stroke-width="1"/>
<text transform="matrix(0.7071,-0.7071,0.7071,0.7071,78.53,617.00)" x="0" y="3.89" text-anchor="end" font-size="5.4" font-weight="bold" fill="#2626cc" stroke="#2626cc" stroke-width="0.12" textLength="5.70" lengthAdjust="spacingAndGlyphs">III</text>
<line x1="97.08" y1="613.80" x2="97.08" y2="611.30" stroke="#909090" stroke-width="1"/>
<text transform="matrix(0.7071,-0.7071,0.7071,0.7071,96.78,617.00)" x="0" y="3.89" text-anchor="end" font-size="5.4" font-weight="bold" fill="#2626cc" stroke="#2626cc" stroke-width="0.12" textLength="34.77" lengthAdjust="spacingAndGlyphs">CR-NET : LMR</text>
<line x1="115.33" y1="613.80" x2="115.33" y2="611.30" stroke="#909090" stroke-width="1"/>
<text transform="matrix(0.7071,-0.7071,0.7071,0.7071,115.03,617.00)" x="0" y="3.89" text-anchor="end" font-size="5.4" font-weight="bold" fill="#2626cc" stroke="#2626cc" stroke-width="0.12" textLength="11.40" lengthAdjust="spacingAndGlyphs">I + II</text>
<line x1="133.57" y1="613.80" x2="133.57" y2="611.30" stroke="#909090" stroke-width="1"/>
<text transform="matrix(0.7071,-0.7071,0.7071,0.7071,133.27,617.00)" x="0" y="3.89" text-anchor="end" font-size="5.4" font-weight="bold" fill="#2626cc" stroke="#2626cc" stroke-width="0.12" textLength="5.70" lengthAdjust="spacingAndGlyphs">III</text>
<line x1="151.82" y1="613.80" x2="151.82" y2="611.30" stroke="#909090" stroke-width="1"/>
<text transform="matrix(0.7071,-0.7071,0.7071,0.7071,151.52,617.00)" x="0" y="3.89" text-anchor="end" font-size="5.4" font-weight="bold" fill="#2626cc" stroke="#2626cc" stroke-width="0.12" textLength="25.65" lengthAdjust="spacingAndGlyphs">CRC : NLR</text>
<line x1="170.07" y1="613.80" x2="170.07" y2="611.30" stroke="#909090" stroke-width="1"/>
<text transform="matrix(0.7071,-0.7071,0.7071,0.7071,169.77,617.00)" x="0" y="3.89" text-anchor="end" font-size="5.4" font-weight="bold" fill="#2626cc" stroke="#2626cc" stroke-width="0.12" textLength="2.85" lengthAdjust="spacingAndGlyphs">I</text>
<line x1="188.32" y1="613.80" x2="188.32" y2="611.30" stroke="#909090" stroke-width="1"/>
<text transform="matrix(0.7071,-0.7071,0.7071,0.7071,188.02,617.00)" x="0" y="3.89" text-anchor="end" font-size="5.4" font-weight="bold" fill="#2626cc" stroke="#2626cc" stroke-width="0.12" textLength="4.75" lengthAdjust="spacingAndGlyphs">II</text>
<line x1="206.57" y1="613.80" x2="206.57" y2="611.30" stroke="#909090" stroke-width="1"/>
<text transform="matrix(0.7071,-0.7071,0.7071,0.7071,206.27,617.00)" x="0" y="3.89" text-anchor="end" font-size="5.4" font-weight="bold" fill="#2626cc" stroke="#2626cc" stroke-width="0.12" textLength="5.70" lengthAdjust="spacingAndGlyphs">III</text>
<line x1="224.82" y1="613.80" x2="224.82" y2="611.30" stroke="#909090" stroke-width="1"/>
<text transform="matrix(0.7071,-0.7071,0.7071,0.7071,224.52,617.00)" x="0" y="3.89" text-anchor="end" font-size="5.4" font-weight="bold" fill="#2626cc" stroke="#2626cc" stroke-width="0.12" textLength="25.65" lengthAdjust="spacingAndGlyphs">CRC : LMR</text>
<line x1="243.07" y1="613.80" x2="243.07" y2="611.30" stroke="#909090" stroke-width="1"/>
<text transform="matrix(0.7071,-0.7071,0.7071,0.7071,242.77,617.00)" x="0" y="3.89" text-anchor="end" font-size="5.4" font-weight="bold" fill="#2626cc" stroke="#2626cc" stroke-width="0.12" textLength="2.85" lengthAdjust="spacingAndGlyphs">I</text>
<line x1="261.32" y1="613.80" x2="261.32" y2="611.30" stroke="#909090" stroke-width="1"/>
<text transform="matrix(0.7071,-0.7071,0.7071,0.7071,261.02,617.00)" x="0" y="3.89" text-anchor="end" font-size="5.4" font-weight="bold" fill="#2626cc" stroke="#2626cc" stroke-width="0.12" textLength="4.75" lengthAdjust="spacingAndGlyphs">II</text>
<line x1="279.57" y1="613.80" x2="279.57" y2="611.30" stroke="#909090" stroke-width="1"/>
<text transform="matrix(0.7071,-0.7071,0.7071,0.7071,279.27,617.00)" x="0" y="3.89" text-anchor="end" font-size="5.4" font-weight="bold" fill="#2626cc" stroke="#2626cc" stroke-width="0.12" textLength="5.70" lengthAdjust="spacingAndGlyphs">III</text>
<text transform="translate(15.80,576.40) scale(1.0,1) rotate(-90)" x="0" y="1.80" font-size="5" font-weight="bold" fill="#2626cc" stroke="#2626cc" stroke-width="0.22" textLength="52.50" lengthAdjust="spacingAndGlyphs">NLR and LMR values</text>
<text transform="translate(138.70,650.82) scale(0.895104450066027,1)" x="0" y="0" font-size="5.6" font-weight="bold" fill="#2626cc" textLength="32.40" lengthAdjust="spacing" stroke="#2626cc" stroke-width="0.2">TNM stages</text>
<line x1="60.70" y1="592.00" x2="60.70" y2="596.30" stroke="#5c5ccc" stroke-width="0.9"/>
<line x1="57.55" y1="592.00" x2="63.85" y2="592.00" stroke="#5c5ccc" stroke-width="0.9"/>
<line x1="60.70" y1="601.40" x2="60.70" y2="605.20" stroke="#5c5ccc" stroke-width="0.9"/>
<line x1="57.55" y1="605.20" x2="63.85" y2="605.20" stroke="#5c5ccc" stroke-width="0.9"/>
<rect x="54.40" y="596.30" width="12.60" height="5.10" fill="#d6d6d6" stroke="#5c5ccc" stroke-width="0.9"/>
<line x1="54.40" y1="598.90" x2="67.00" y2="598.90" stroke="#5c5ccc" stroke-width="0.9"/>
<line x1="59.30" y1="597.60" x2="62.10" y2="597.60" stroke="#2a2ad0" stroke-width="0.9"/>
<line x1="60.70" y1="596.20" x2="60.70" y2="599.00" stroke="#2a2ad0" stroke-width="0.9"/>
<line x1="79.20" y1="584.10" x2="79.20" y2="591.80" stroke="#5c5ccc" stroke-width="0.9"/>
<line x1="76.08" y1="584.10" x2="82.33" y2="584.10" stroke="#5c5ccc" stroke-width="0.9"/>
<line x1="79.20" y1="598.10" x2="79.20" y2="598.90" stroke="#5c5ccc" stroke-width="0.9"/>
<line x1="76.08" y1="598.90" x2="82.33" y2="598.90" stroke="#5c5ccc" stroke-width="0.9"/>
<rect x="72.95" y="591.80" width="12.50" height="6.30" fill="#d6d6d6" stroke="#5c5ccc" stroke-width="0.9"/>
<line x1="72.95" y1="593.00" x2="85.45" y2="593.00" stroke="#5c5ccc" stroke-width="0.9"/>
<line x1="77.80" y1="593.80" x2="80.60" y2="593.80" stroke="#2a2ad0" stroke-width="0.9"/>
<line x1="79.20" y1="592.40" x2="79.20" y2="595.20" stroke="#2a2ad0" stroke-width="0.9"/>
<line x1="115.70" y1="542.40" x2="115.70" y2="561.50" stroke="#5c5ccc" stroke-width="0.9"/>
<line x1="112.65" y1="542.40" x2="118.75" y2="542.40" stroke="#5c5ccc" stroke-width="0.9"/>
<line x1="115.70" y1="583.60" x2="115.70" y2="592.00" stroke="#5c5ccc" stroke-width="0.9"/>
<line x1="112.65" y1="592.00" x2="118.75" y2="592.00" stroke="#5c5ccc" stroke-width="0.9"/>
<rect x="109.60" y="561.50" width="12.20" height="22.10" fill="#d6d6d6" stroke="#5c5ccc" stroke-width="0.9"/>
<line x1="109.60" y1="576.00" x2="121.80" y2="576.00" stroke="#5c5ccc" stroke-width="0.9"/>
<line x1="114.30" y1="572.20" x2="117.10" y2="572.20" stroke="#2a2ad0" stroke-width="0.9"/>
<line x1="115.70" y1="570.80" x2="115.70" y2="573.60" stroke="#2a2ad0" stroke-width="0.9"/>
<line x1="133.60" y1="522.50" x2="133.60" y2="555.60" stroke="#5c5ccc" stroke-width="0.9"/>
<line x1="130.60" y1="522.50" x2="136.60" y2="522.50" stroke="#5c5ccc" stroke-width="0.9"/>
<line x1="133.60" y1="579.30" x2="133.60" y2="590.00" stroke="#5c5ccc" stroke-width="0.9"/>
<line x1="130.60" y1="590.00" x2="136.60" y2="590.00" stroke="#5c5ccc" stroke-width="0.9"/>
<rect x="127.60" y="555.60" width="12.00" height="23.70" fill="#d6d6d6" stroke="#5c5ccc" stroke-width="0.9"/>
<line x1="127.60" y1="560.70" x2="139.60" y2="560.70" stroke="#5c5ccc" stroke-width="0.9"/>
<line x1="132.20" y1="563.80" x2="135.00" y2="563.80" stroke="#2a2ad0" stroke-width="0.9"/>
<line x1="133.60" y1="562.40" x2="133.60" y2="565.20" stroke="#2a2ad0" stroke-width="0.9"/>
<line x1="170.50" y1="554.40" x2="170.50" y2="584.70" stroke="#5c5ccc" stroke-width="0.9"/>
<line x1="167.50" y1="554.40" x2="173.50" y2="554.40" stroke="#5c5ccc" stroke-width="0.9"/>
<line x1="170.50" y1="598.70" x2="170.50" y2="607.20" stroke="#5c5ccc" stroke-width="0.9"/>
<line x1="167.50" y1="607.20" x2="173.50" y2="607.20" stroke="#5c5ccc" stroke-width="0.9"/>
<rect x="164.50" y="584.70" width="12.00" height="14.00" fill="#d6d6d6" stroke="#5c5ccc" stroke-width="0.9"/>
<line x1="164.50" y1="591.30" x2="176.50" y2="591.30" stroke="#5c5ccc" stroke-width="0.9"/>
<line x1="169.10" y1="590.00" x2="171.90" y2="590.00" stroke="#2a2ad0" stroke-width="0.9"/>
<line x1="170.50" y1="588.60" x2="170.50" y2="591.40" stroke="#2a2ad0" stroke-width="0.9"/>
<line x1="188.40" y1="549.10" x2="188.40" y2="579.50" stroke="#5c5ccc" stroke-width="0.9"/>
<line x1="185.40" y1="549.10" x2="191.40" y2="549.10" stroke="#5c5ccc" stroke-width="0.9"/>
<line x1="188.40" y1="597.40" x2="188.40" y2="603.50" stroke="#5c5ccc" stroke-width="0.9"/>
<line x1="185.40" y1="603.50" x2="191.40" y2="603.50" stroke="#5c5ccc" stroke-width="0.9"/>
<rect x="182.40" y="579.50" width="12.00" height="17.90" fill="#d6d6d6" stroke="#5c5ccc" stroke-width="0.9"/>
<line x1="182.40" y1="589.00" x2="194.40" y2="589.00" stroke="#5c5ccc" stroke-width="0.9"/>
<line x1="187.00" y1="586.30" x2="189.80" y2="586.30" stroke="#2a2ad0" stroke-width="0.9"/>
<line x1="188.40" y1="584.90" x2="188.40" y2="587.70" stroke="#2a2ad0" stroke-width="0.9"/>
<line x1="206.80" y1="496.40" x2="206.80" y2="576.30" stroke="#5c5ccc" stroke-width="0.9"/>
<line x1="203.80" y1="496.40" x2="209.80" y2="496.40" stroke="#5c5ccc" stroke-width="0.9"/>
<line x1="206.80" y1="591.60" x2="206.80" y2="599.30" stroke="#5c5ccc" stroke-width="0.9"/>
<line x1="203.80" y1="599.30" x2="209.80" y2="599.30" stroke="#5c5ccc" stroke-width="0.9"/>
<rect x="200.80" y="576.30" width="12.00" height="15.30" fill="#d6d6d6" stroke="#5c5ccc" stroke-width="0.9"/>
<line x1="200.80" y1="582.90" x2="212.80" y2="582.90" stroke="#5c5ccc" stroke-width="0.9"/>
<line x1="205.40" y1="577.10" x2="208.20" y2="577.10" stroke="#2a2ad0" stroke-width="0.9"/>
<line x1="206.80" y1="575.70" x2="206.80" y2="578.50" stroke="#2a2ad0" stroke-width="0.9"/>
<line x1="243.20" y1="539.90" x2="243.20" y2="577.10" stroke="#5c5ccc" stroke-width="0.9"/>
<line x1="240.07" y1="539.90" x2="246.32" y2="539.90" stroke="#5c5ccc" stroke-width="0.9"/>
<line x1="243.20" y1="588.20" x2="243.20" y2="606.60" stroke="#5c5ccc" stroke-width="0.9"/>
<line x1="240.07" y1="606.60" x2="246.32" y2="606.60" stroke="#5c5ccc" stroke-width="0.9"/>
<rect x="236.95" y="577.10" width="12.50" height="11.10" fill="#d6d6d6" stroke="#5c5ccc" stroke-width="0.9"/>
<line x1="236.95" y1="584.20" x2="249.45" y2="584.20" stroke="#5c5ccc" stroke-width="0.9"/>
<line x1="241.80" y1="581.00" x2="244.60" y2="581.00" stroke="#2a2ad0" stroke-width="0.9"/>
<line x1="243.20" y1="579.60" x2="243.20" y2="582.40" stroke="#2a2ad0" stroke-width="0.9"/>
<line x1="261.20" y1="554.70" x2="261.20" y2="573.10" stroke="#5c5ccc" stroke-width="0.9"/>
<line x1="258.10" y1="554.70" x2="264.30" y2="554.70" stroke="#5c5ccc" stroke-width="0.9"/>
<line x1="261.20" y1="600.00" x2="261.20" y2="607.40" stroke="#5c5ccc" stroke-width="0.9"/>
<line x1="258.10" y1="607.40" x2="264.30" y2="607.40" stroke="#5c5ccc" stroke-width="0.9"/>
<rect x="255.00" y="573.10" width="12.40" height="26.90" fill="#d6d6d6" stroke="#5c5ccc" stroke-width="0.9"/>
<line x1="255.00" y1="589.00" x2="267.40" y2="589.00" stroke="#5c5ccc" stroke-width="0.9"/>
<line x1="259.80" y1="586.00" x2="262.60" y2="586.00" stroke="#2a2ad0" stroke-width="0.9"/>
<line x1="261.20" y1="584.60" x2="261.20" y2="587.40" stroke="#2a2ad0" stroke-width="0.9"/>
<line x1="279.70" y1="560.00" x2="279.70" y2="589.00" stroke="#5c5ccc" stroke-width="0.9"/>
<line x1="276.60" y1="560.00" x2="282.80" y2="560.00" stroke="#5c5ccc" stroke-width="0.9"/>
<line x1="279.70" y1="601.40" x2="279.70" y2="604.80" stroke="#5c5ccc" stroke-width="0.9"/>
<line x1="276.60" y1="604.80" x2="282.80" y2="604.80" stroke="#5c5ccc" stroke-width="0.9"/>
<rect x="273.50" y="589.00" width="12.40" height="12.40" fill="#d6d6d6" stroke="#5c5ccc" stroke-width="0.9"/>
<line x1="273.50" y1="595.30" x2="285.90" y2="595.30" stroke="#5c5ccc" stroke-width="0.9"/>
<line x1="278.30" y1="592.70" x2="281.10" y2="592.70" stroke="#2a2ad0" stroke-width="0.9"/>
<line x1="279.70" y1="591.30" x2="279.70" y2="594.10" stroke="#2a2ad0" stroke-width="0.9"/>
<line x1="60.70" y1="562.50" x2="78.00" y2="562.50" stroke="#6e6e6e" stroke-width="1.0"/>
<line x1="60.70" y1="560.30" x2="60.70" y2="564.70" stroke="#6e6e6e" stroke-width="1.4"/>
<line x1="78.00" y1="560.30" x2="78.00" y2="564.70" stroke="#6e6e6e" stroke-width="1.4"/>
<text transform="translate(69.60,562.80) scale(1.5,1)" text-anchor="middle" font-size="5.8" font-weight="bold" fill="#222">*</text>
<line x1="116.50" y1="515.70" x2="133.00" y2="515.70" stroke="#6e6e6e" stroke-width="1.0"/>
<line x1="116.50" y1="513.50" x2="116.50" y2="517.90" stroke="#6e6e6e" stroke-width="1.4"/>
<line x1="133.00" y1="513.50" x2="133.00" y2="517.90" stroke="#6e6e6e" stroke-width="1.4"/>
<text x="124.00" y="513.30" text-anchor="middle" font-size="5.5" font-style="italic" font-weight="bold" fill="#333" textLength="7" lengthAdjust="spacingAndGlyphs">ns</text>
<line x1="168.50" y1="492.70" x2="206.00" y2="492.70" stroke="#6e6e6e" stroke-width="1.0"/>
<line x1="168.50" y1="490.50" x2="168.50" y2="494.90" stroke="#6e6e6e" stroke-width="1.4"/>
<line x1="206.00" y1="490.50" x2="206.00" y2="494.90" stroke="#6e6e6e" stroke-width="1.4"/>
<text transform="translate(187.00,491.80) scale(1.5,1)" text-anchor="middle" font-size="5.8" font-weight="bold" fill="#222">*</text>
<line x1="242.30" y1="534.00" x2="280.00" y2="534.00" stroke="#6e6e6e" stroke-width="1.0"/>
<line x1="242.30" y1="531.80" x2="242.30" y2="536.20" stroke="#6e6e6e" stroke-width="1.4"/>
<line x1="280.00" y1="531.80" x2="280.00" y2="536.20" stroke="#6e6e6e" stroke-width="1.4"/>
<text transform="translate(260.80,531.90) scale(1.5,1)" text-anchor="middle" font-size="5.8" font-weight="bold" fill="#222">*</text>
<rect x="312.60" y="462.70" width="232.70" height="195.50" fill="none" stroke="#a9cdef" stroke-width="1.15"/>
<text x="425.2" y="455.00" font-family='"Liberation Serif", serif' font-size="11" fill="#111">F.</text>
<text transform="translate(410.50,474.03) scale(1.2645132061132844,1)" x="0" y="0" font-size="6.2" font-weight="bold" fill="#2020c0" textLength="52.91" lengthAdjust="spacing" stroke="#2020c0" stroke-width="0.15">CR-NET and CRC</text>
<text transform="translate(348.90,480.69) scale(1.4207351353605318,1)" x="0" y="0" font-size="5.8" font-weight="bold" fill="#2020c0" textLength="132.89" lengthAdjust="spacing" stroke="#2020c0" stroke-width="0.15">The comparison between TNM stages and PLR</text>
<rect x="352.20" y="487.50" width="184.50" height="127.20" fill="none" stroke="#a4a4a4" stroke-width="1.0"/>
<line x1="352.20" y1="614.70" x2="354.70" y2="614.70" stroke="#909090" stroke-width="1"/>
<text transform="translate(345.00,616.51) scale(1.1911225736392017,1)" x="0" y="0" font-size="5.3" font-weight="bold" fill="#111" textLength="3.27" lengthAdjust="spacing" stroke="#111" stroke-width="0.15">0</text>
<line x1="352.20" y1="603.14" x2="354.70" y2="603.14" stroke="#909090" stroke-width="1"/>
<text transform="translate(341.10,604.94) scale(1.1911225736392017,1)" x="0" y="0" font-size="5.3" font-weight="bold" fill="#111" textLength="6.55" lengthAdjust="spacing" stroke="#111" stroke-width="0.15">50</text>
<line x1="352.20" y1="591.57" x2="354.70" y2="591.57" stroke="#909090" stroke-width="1"/>
<text transform="translate(337.20,593.38) scale(1.1911225736392017,1)" x="0" y="0" font-size="5.3" font-weight="bold" fill="#111" textLength="9.82" lengthAdjust="spacing" stroke="#111" stroke-width="0.15">100</text>
<line x1="352.20" y1="580.01" x2="354.70" y2="580.01" stroke="#909090" stroke-width="1"/>
<text transform="translate(337.20,581.82) scale(1.1911225736392017,1)" x="0" y="0" font-size="5.3" font-weight="bold" fill="#111" textLength="9.82" lengthAdjust="spacing" stroke="#111" stroke-width="0.15">150</text>
<line x1="352.20" y1="568.45" x2="354.70" y2="568.45" stroke="#909090" stroke-width="1"/>
<text transform="translate(337.20,570.25) scale(1.1911225736392017,1)" x="0" y="0" font-size="5.3" font-weight="bold" fill="#111" textLength="9.82" lengthAdjust="spacing" stroke="#111" stroke-width="0.15">200</text>
<line x1="352.20" y1="556.88" x2="354.70" y2="556.88" stroke="#909090" stroke-width="1"/>
<text transform="translate(337.20,558.69) scale(1.1911225736392017,1)" x="0" y="0" font-size="5.3" font-weight="bold" fill="#111" textLength="9.82" lengthAdjust="spacing" stroke="#111" stroke-width="0.15">250</text>
<line x1="352.20" y1="545.32" x2="354.70" y2="545.32" stroke="#909090" stroke-width="1"/>
<text transform="translate(337.20,547.13) scale(1.1911225736392017,1)" x="0" y="0" font-size="5.3" font-weight="bold" fill="#111" textLength="9.82" lengthAdjust="spacing" stroke="#111" stroke-width="0.15">300</text>
<line x1="352.20" y1="533.75" x2="354.70" y2="533.75" stroke="#909090" stroke-width="1"/>
<text transform="translate(337.20,535.56) scale(1.1911225736392017,1)" x="0" y="0" font-size="5.3" font-weight="bold" fill="#111" textLength="9.82" lengthAdjust="spacing" stroke="#111" stroke-width="0.15">350</text>
<line x1="352.20" y1="522.19" x2="354.70" y2="522.19" stroke="#909090" stroke-width="1"/>
<text transform="translate(337.20,524.00) scale(1.1911225736392017,1)" x="0" y="0" font-size="5.3" font-weight="bold" fill="#111" textLength="9.82" lengthAdjust="spacing" stroke="#111" stroke-width="0.15">400</text>
<line x1="352.20" y1="510.63" x2="354.70" y2="510.63" stroke="#909090" stroke-width="1"/>
<text transform="translate(337.20,512.44) scale(1.1911225736392017,1)" x="0" y="0" font-size="5.3" font-weight="bold" fill="#111" textLength="9.82" lengthAdjust="spacing" stroke="#111" stroke-width="0.15">450</text>
<line x1="352.20" y1="499.06" x2="354.70" y2="499.06" stroke="#909090" stroke-width="1"/>
<text transform="translate(337.20,500.87) scale(1.1911225736392017,1)" x="0" y="0" font-size="5.3" font-weight="bold" fill="#111" textLength="9.82" lengthAdjust="spacing" stroke="#111" stroke-width="0.15">500</text>
<line x1="352.20" y1="487.50" x2="354.70" y2="487.50" stroke="#909090" stroke-width="1"/>
<text transform="translate(337.20,489.31) scale(1.1911225736392017,1)" x="0" y="0" font-size="5.3" font-weight="bold" fill="#111" textLength="9.82" lengthAdjust="spacing" stroke="#111" stroke-width="0.15">550</text>
<line x1="365.38" y1="614.70" x2="365.38" y2="612.20" stroke="#909090" stroke-width="1"/>
<text transform="matrix(1.0960,-0.7071,1.0960,0.7071,363.38,618.70)" x="0" y="4.03" text-anchor="end" font-size="5.6" font-weight="bold" fill="#2020c0" stroke="#2020c0" stroke-width="0.12" textLength="30.68" lengthAdjust="spacingAndGlyphs">CR-NET : PLR</text>
<line x1="391.74" y1="614.70" x2="391.74" y2="612.20" stroke="#909090" stroke-width="1"/>
<text transform="matrix(1.0960,-0.7071,1.0960,0.7071,389.74,618.70)" x="0" y="4.03" text-anchor="end" font-size="5.6" font-weight="bold" fill="#2020c0" stroke="#2020c0" stroke-width="0.12" textLength="8.82" lengthAdjust="spacingAndGlyphs">I + II</text>
<line x1="418.10" y1="614.70" x2="418.10" y2="612.20" stroke="#909090" stroke-width="1"/>
<text transform="matrix(1.0960,-0.7071,1.0960,0.7071,416.10,618.70)" x="0" y="4.03" text-anchor="end" font-size="5.6" font-weight="bold" fill="#2020c0" stroke="#2020c0" stroke-width="0.12" textLength="4.58" lengthAdjust="spacingAndGlyphs">III</text>
<line x1="444.46" y1="614.70" x2="444.46" y2="612.20" stroke="#909090" stroke-width="1"/>
<text transform="matrix(1.0960,-0.7071,1.0960,0.7071,442.46,618.70)" x="0" y="4.03" text-anchor="end" font-size="5.6" font-weight="bold" fill="#2020c0" stroke="#2020c0" stroke-width="0.12" textLength="22.43" lengthAdjust="spacingAndGlyphs">CRC : PLR</text>
<line x1="470.82" y1="614.70" x2="470.82" y2="612.20" stroke="#909090" stroke-width="1"/>
<text transform="matrix(1.0960,-0.7071,1.0960,0.7071,468.82,618.70)" x="0" y="4.03" text-anchor="end" font-size="5.6" font-weight="bold" fill="#2020c0" stroke="#2020c0" stroke-width="0.12" textLength="2.82" lengthAdjust="spacingAndGlyphs">I</text>
<line x1="497.18" y1="614.70" x2="497.18" y2="612.20" stroke="#909090" stroke-width="1"/>
<text transform="matrix(1.0960,-0.7071,1.0960,0.7071,495.18,618.70)" x="0" y="4.03" text-anchor="end" font-size="5.6" font-weight="bold" fill="#2020c0" stroke="#2020c0" stroke-width="0.12" textLength="4.23" lengthAdjust="spacingAndGlyphs">II</text>
<line x1="523.54" y1="614.70" x2="523.54" y2="612.20" stroke="#909090" stroke-width="1"/>
<text transform="matrix(1.0960,-0.7071,1.0960,0.7071,521.54,618.70)" x="0" y="4.03" text-anchor="end" font-size="5.6" font-weight="bold" fill="#2020c0" stroke="#2020c0" stroke-width="0.12" textLength="4.58" lengthAdjust="spacingAndGlyphs">III</text>
<text transform="translate(325.80,565.90) scale(1.3,1) rotate(-90)" x="0" y="2.16" font-size="6" font-weight="bold" fill="#2020c0" stroke="#2020c0" stroke-width="0.22" textLength="29.20" lengthAdjust="spacingAndGlyphs">PLR values</text>
<text transform="translate(411.30,651.69) scale(1.257616430675407,1)" x="0" y="0" font-size="5.8" font-weight="bold" fill="#2020c0" textLength="33.56" lengthAdjust="spacing" stroke="#2020c0" stroke-width="0.2">TNM stages</text>
<line x1="391.70" y1="570.00" x2="391.70" y2="588.30" stroke="#5050dc" stroke-width="1.0"/>
<line x1="387.38" y1="570.00" x2="396.02" y2="570.00" stroke="#5050dc" stroke-width="1.0"/>
<line x1="391.70" y1="596.60" x2="391.70" y2="602.00" stroke="#5050dc" stroke-width="1.0"/>
<line x1="387.38" y1="602.00" x2="396.02" y2="602.00" stroke="#5050dc" stroke-width="1.0"/>
<rect x="383.05" y="588.30" width="17.30" height="8.30" fill="#d6d6d6" stroke="#5050dc" stroke-width="1.0"/>
<line x1="383.05" y1="589.40" x2="400.35" y2="589.40" stroke="#5050dc" stroke-width="1.0"/>
<line x1="390.10" y1="590.50" x2="393.30" y2="590.50" stroke="#2a2ad0" stroke-width="0.9"/>
<line x1="391.70" y1="588.90" x2="391.70" y2="592.10" stroke="#2a2ad0" stroke-width="0.9"/>
<line x1="417.80" y1="579.10" x2="417.80" y2="582.40" stroke="#5050dc" stroke-width="1.0"/>
<line x1="413.43" y1="579.10" x2="422.18" y2="579.10" stroke="#5050dc" stroke-width="1.0"/>
<line x1="417.80" y1="593.30" x2="417.80" y2="603.10" stroke="#5050dc" stroke-width="1.0"/>
<line x1="413.43" y1="603.10" x2="422.18" y2="603.10" stroke="#5050dc" stroke-width="1.0"/>
<rect x="409.05" y="582.40" width="17.50" height="10.90" fill="#d6d6d6" stroke="#5050dc" stroke-width="1.0"/>
<line x1="409.05" y1="589.00" x2="426.55" y2="589.00" stroke="#5050dc" stroke-width="1.0"/>
<line x1="416.20" y1="589.00" x2="419.40" y2="589.00" stroke="#2a2ad0" stroke-width="0.9"/>
<line x1="417.80" y1="587.40" x2="417.80" y2="590.60" stroke="#2a2ad0" stroke-width="0.9"/>
<line x1="470.60" y1="497.40" x2="470.60" y2="558.60" stroke="#5050dc" stroke-width="1.0"/>
<line x1="466.23" y1="497.40" x2="474.98" y2="497.40" stroke="#5050dc" stroke-width="1.0"/>
<line x1="470.60" y1="585.60" x2="470.60" y2="592.30" stroke="#5050dc" stroke-width="1.0"/>
<line x1="466.23" y1="592.30" x2="474.98" y2="592.30" stroke="#5050dc" stroke-width="1.0"/>
<rect x="461.85" y="558.60" width="17.50" height="27.00" fill="#d6d6d6" stroke="#5050dc" stroke-width="1.0"/>
<line x1="461.85" y1="572.90" x2="479.35" y2="572.90" stroke="#5050dc" stroke-width="1.0"/>
<line x1="469.00" y1="567.60" x2="472.20" y2="567.60" stroke="#2a2ad0" stroke-width="0.9"/>
<line x1="470.60" y1="566.00" x2="470.60" y2="569.20" stroke="#2a2ad0" stroke-width="0.9"/>
<line x1="497.00" y1="547.60" x2="497.00" y2="560.00" stroke="#5050dc" stroke-width="1.0"/>
<line x1="492.60" y1="547.60" x2="501.40" y2="547.60" stroke="#5050dc" stroke-width="1.0"/>
<line x1="497.00" y1="590.60" x2="497.00" y2="601.20" stroke="#5050dc" stroke-width="1.0"/>
<line x1="492.60" y1="601.20" x2="501.40" y2="601.20" stroke="#5050dc" stroke-width="1.0"/>
<rect x="488.20" y="560.00" width="17.60" height="30.60" fill="#d6d6d6" stroke="#5050dc" stroke-width="1.0"/>
<line x1="488.20" y1="580.30" x2="505.80" y2="580.30" stroke="#5050dc" stroke-width="1.0"/>
<line x1="495.40" y1="576.90" x2="498.60" y2="576.90" stroke="#2a2ad0" stroke-width="0.9"/>
<line x1="497.00" y1="575.30" x2="497.00" y2="578.50" stroke="#2a2ad0" stroke-width="0.9"/>
<line x1="523.40" y1="540.60" x2="523.40" y2="571.20" stroke="#5050dc" stroke-width="1.0"/>
<line x1="519.02" y1="540.60" x2="527.77" y2="540.60" stroke="#5050dc" stroke-width="1.0"/>
<line x1="523.40" y1="590.20" x2="523.40" y2="602.20" stroke="#5050dc" stroke-width="1.0"/>
<line x1="519.02" y1="602.20" x2="527.77" y2="602.20" stroke="#5050dc" stroke-width="1.0"/>
<rect x="514.65" y="571.20" width="17.50" height="19.00" fill="#d6d6d6" stroke="#5050dc" stroke-width="1.0"/>
<line x1="514.65" y1="582.80" x2="532.15" y2="582.80" stroke="#5050dc" stroke-width="1.0"/>
<line x1="521.80" y1="579.20" x2="525.00" y2="579.20" stroke="#2a2ad0" stroke-width="0.9"/>
<line x1="523.40" y1="577.60" x2="523.40" y2="580.80" stroke="#2a2ad0" stroke-width="0.9"/>
<line x1="391.10" y1="564.50" x2="419.50" y2="564.50" stroke="#6e6e6e" stroke-width="1.0"/>
<line x1="391.10" y1="562.30" x2="391.10" y2="566.70" stroke="#6e6e6e" stroke-width="1.4"/>
<line x1="419.50" y1="562.30" x2="419.50" y2="566.70" stroke="#6e6e6e" stroke-width="1.4"/>
<text x="406.90" y="562.60" text-anchor="middle" font-size="5.5" font-style="italic" font-weight="bold" fill="#333" textLength="7" lengthAdjust="spacingAndGlyphs">ns</text>
<line x1="471.00" y1="493.40" x2="523.60" y2="493.40" stroke="#6e6e6e" stroke-width="1.0"/>
<line x1="471.00" y1="491.20" x2="471.00" y2="495.60" stroke="#6e6e6e" stroke-width="1.4"/>
<line x1="523.60" y1="491.20" x2="523.60" y2="495.60" stroke="#6e6e6e" stroke-width="1.4"/>
<text transform="translate(496.80,493.60) scale(1.5,1)" text-anchor="middle" font-size="5.8" font-weight="bold" fill="#222">*</text>
</g>
</svg></body></html>
